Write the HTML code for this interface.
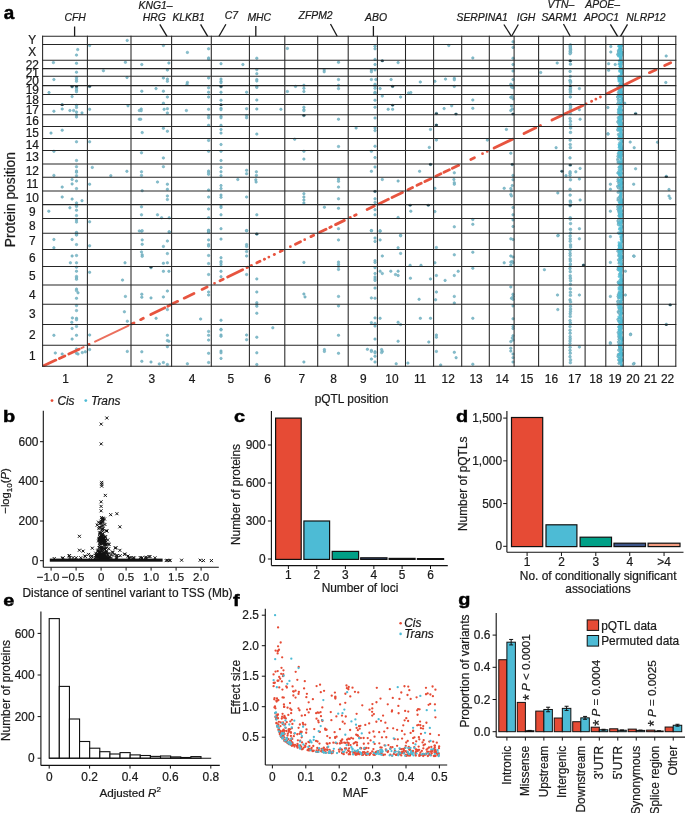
<!DOCTYPE html>
<html><head><meta charset="utf-8"><title>pQTL figure</title>
<style>
html,body{margin:0;padding:0;background:#fff;}
body{width:685px;height:813px;overflow:hidden;}
svg{display:block;will-change:transform;}
text{font-family:"Liberation Sans",sans-serif;fill:#1a1a1a;stroke:#1a1a1a;stroke-width:0.22px;}
</style></head><body>
<svg width="685" height="813" viewBox="0 0 685 813">
<rect width="685" height="813" fill="#fff"/>
<text transform="translate(3.65 18.9) scale(1.03 1)" x="0" y="0" font-size="18.3" font-weight="bold" style="fill:#000;stroke:#000;stroke-width:0.45px">a</text>
<text x="32.3" y="44.45" font-size="11.9" text-anchor="middle">Y</text>
<text x="32.3" y="56.45" font-size="11.9" text-anchor="middle">X</text>
<text x="32.3" y="68.55" font-size="11.9" text-anchor="middle">22</text>
<text x="32.3" y="76.5" font-size="11.9" text-anchor="middle">21</text>
<text x="32.3" y="85" font-size="11.9" text-anchor="middle">20</text>
<text x="32.3" y="94.1" font-size="11.9" text-anchor="middle">19</text>
<text x="32.3" y="103.5" font-size="11.9" text-anchor="middle">18</text>
<text x="32.3" y="113.65" font-size="11.9" text-anchor="middle">17</text>
<text x="32.3" y="124.65" font-size="11.9" text-anchor="middle">16</text>
<text x="32.3" y="136.5" font-size="11.9" text-anchor="middle">15</text>
<text x="32.3" y="148.5" font-size="11.9" text-anchor="middle">14</text>
<text x="32.3" y="161.25" font-size="11.9" text-anchor="middle">13</text>
<text x="32.3" y="174.7" font-size="11.9" text-anchor="middle">12</text>
<text x="32.3" y="188.2" font-size="11.9" text-anchor="middle">11</text>
<text x="32.3" y="201.85" font-size="11.9" text-anchor="middle">10</text>
<text x="32.3" y="215.65" font-size="11.9" text-anchor="middle">9</text>
<text x="32.3" y="230" font-size="11.9" text-anchor="middle">8</text>
<text x="32.3" y="245.45" font-size="11.9" text-anchor="middle">7</text>
<text x="32.3" y="262" font-size="11.9" text-anchor="middle">6</text>
<text x="32.3" y="279.75" font-size="11.9" text-anchor="middle">5</text>
<text x="32.3" y="298.7" font-size="11.9" text-anchor="middle">4</text>
<text x="32.3" y="318.45" font-size="11.9" text-anchor="middle">3</text>
<text x="32.3" y="338.95" font-size="11.9" text-anchor="middle">2</text>
<text x="32.3" y="359.9" font-size="11.9" text-anchor="middle">1</text>
<text x="65.5" y="382.6" font-size="11.9" text-anchor="middle">1</text>
<text x="109.7" y="382.6" font-size="11.9" text-anchor="middle">2</text>
<text x="151.8" y="382.6" font-size="11.9" text-anchor="middle">3</text>
<text x="191.95" y="382.6" font-size="11.9" text-anchor="middle">4</text>
<text x="230.85" y="382.6" font-size="11.9" text-anchor="middle">5</text>
<text x="267.6" y="382.6" font-size="11.9" text-anchor="middle">6</text>
<text x="301.75" y="382.6" font-size="11.9" text-anchor="middle">7</text>
<text x="333.45" y="382.6" font-size="11.9" text-anchor="middle">8</text>
<text x="363.3" y="382.6" font-size="11.9" text-anchor="middle">9</text>
<text x="391.95" y="382.6" font-size="11.9" text-anchor="middle">10</text>
<text x="420.05" y="382.6" font-size="11.9" text-anchor="middle">11</text>
<text x="448.15" y="382.6" font-size="11.9" text-anchor="middle">12</text>
<text x="476" y="382.6" font-size="11.9" text-anchor="middle">13</text>
<text x="502.2" y="382.6" font-size="11.9" text-anchor="middle">14</text>
<text x="526.85" y="382.6" font-size="11.9" text-anchor="middle">15</text>
<text x="551.4" y="382.6" font-size="11.9" text-anchor="middle">16</text>
<text x="574.65" y="382.6" font-size="11.9" text-anchor="middle">17</text>
<text x="595.95" y="382.6" font-size="11.9" text-anchor="middle">18</text>
<text x="615" y="382.6" font-size="11.9" text-anchor="middle">19</text>
<text x="632.9" y="382.6" font-size="11.9" text-anchor="middle">20</text>
<text x="650.5" y="382.6" font-size="11.9" text-anchor="middle">21</text>
<text x="667.6" y="382.6" font-size="11.9" text-anchor="middle">22</text>
<text x="351.5" y="402.6" font-size="11.9" text-anchor="middle">pQTL position</text>
<text x="14.6" y="199.6" font-size="13.8" text-anchor="middle" transform="rotate(-90 14.6 199.6)">Protein position</text>
<text x="75.2" y="20.9" font-size="10.4" text-anchor="middle" font-style="italic">CFH</text>
<line x1="74.6" y1="26.5" x2="74.6" y2="36.3" stroke="#1a1a1a" stroke-width="1.3"/>
<text x="154.3" y="20.6" font-size="10.4" text-anchor="middle" font-style="italic">HRG</text>
<line x1="159.8" y1="24.3" x2="167" y2="36.3" stroke="#1a1a1a" stroke-width="1.3"/>
<text x="155.6" y="9" font-size="10.4" text-anchor="middle" font-style="italic">KNG1–</text>
<text x="188.6" y="20.6" font-size="10.4" text-anchor="middle" font-style="italic">KLKB1</text>
<line x1="200.6" y1="24.3" x2="207.7" y2="36.3" stroke="#1a1a1a" stroke-width="1.3"/>
<text x="231.4" y="19" font-size="10.4" text-anchor="middle" font-style="italic">C7</text>
<line x1="225.9" y1="24.3" x2="219" y2="36.3" stroke="#1a1a1a" stroke-width="1.3"/>
<text x="259.3" y="21" font-size="10.4" text-anchor="middle" font-style="italic">MHC</text>
<line x1="255.8" y1="26" x2="255.8" y2="36.3" stroke="#1a1a1a" stroke-width="1.3"/>
<text x="315.6" y="19.3" font-size="10.4" text-anchor="middle" font-style="italic">ZFPM2</text>
<line x1="330.5" y1="24" x2="337.2" y2="36.3" stroke="#1a1a1a" stroke-width="1.3"/>
<text x="376" y="21" font-size="10.4" text-anchor="middle" font-style="italic">ABO</text>
<line x1="373.4" y1="26" x2="373.4" y2="36.3" stroke="#1a1a1a" stroke-width="1.3"/>
<text x="482.2" y="20.7" font-size="10.4" text-anchor="middle" font-style="italic">SERPINA1</text>
<line x1="503.9" y1="24.5" x2="511.4" y2="36.3" stroke="#1a1a1a" stroke-width="1.3"/>
<text x="526" y="20.7" font-size="10.4" text-anchor="middle" font-style="italic">IGH</text>
<line x1="518.3" y1="24.5" x2="511.6" y2="36.3" stroke="#1a1a1a" stroke-width="1.3"/>
<text x="560.9" y="8" font-size="10.4" text-anchor="middle" font-style="italic">VTN–</text>
<text x="559.3" y="20.8" font-size="10.4" text-anchor="middle" font-style="italic">SARM1</text>
<line x1="563.5" y1="24" x2="570.2" y2="36.3" stroke="#1a1a1a" stroke-width="1.3"/>
<text x="602.7" y="8" font-size="10.4" text-anchor="middle" font-style="italic">APOE–</text>
<text x="601.5" y="20.6" font-size="10.4" text-anchor="middle" font-style="italic">APOC1</text>
<line x1="610.4" y1="24.3" x2="617.6" y2="36.3" stroke="#1a1a1a" stroke-width="1.3"/>
<text x="646" y="20.6" font-size="10.4" text-anchor="middle" font-style="italic">NLRP12</text>
<line x1="627.5" y1="24.3" x2="620.5" y2="36.3" stroke="#1a1a1a" stroke-width="1.3"/>
<g fill="#86bfcd" stroke="#64a5b6" stroke-width="0.5">
<circle cx="127.2" cy="40.4" r="1.25"/>
<circle cx="89.6" cy="45.5" r="1.25"/>
<circle cx="77.7" cy="49.6" r="1.25"/>
<circle cx="76.5" cy="55.1" r="1.25"/>
<circle cx="53.4" cy="62.6" r="1.25"/>
<circle cx="76.5" cy="63.3" r="1.25"/>
<circle cx="125.4" cy="62.3" r="1.25"/>
<circle cx="103.4" cy="70.7" r="1.25"/>
<circle cx="76.5" cy="72.2" r="1.25"/>
<circle cx="53.9" cy="79.5" r="1.25"/>
<circle cx="76.5" cy="77.6" r="1.25"/>
<circle cx="76.5" cy="79.5" r="1.25"/>
<circle cx="76.5" cy="81.3" r="1.25"/>
<circle cx="127" cy="77.5" r="1.25"/>
<circle cx="72.1" cy="86.8" r="1.25"/>
<circle cx="76.5" cy="87.1" r="1.25"/>
<circle cx="76.5" cy="88.6" r="1.25"/>
<circle cx="76.5" cy="90.2" r="1.25"/>
<circle cx="76.5" cy="91.8" r="1.25"/>
<circle cx="89.6" cy="86.4" r="1.25"/>
<circle cx="49" cy="92.6" r="1.25"/>
<circle cx="72.1" cy="96.6" r="1.25"/>
<circle cx="62.2" cy="104.6" r="1.25"/>
<circle cx="62.2" cy="109" r="1.25"/>
<circle cx="76.5" cy="105.3" r="1.25"/>
<circle cx="76.5" cy="107.5" r="1.25"/>
<circle cx="53.9" cy="111.2" r="1.25"/>
<circle cx="69.9" cy="110.5" r="1.25"/>
<circle cx="73.6" cy="110.5" r="1.25"/>
<circle cx="76.5" cy="112" r="1.25"/>
<circle cx="76.5" cy="114.8" r="1.25"/>
<circle cx="76.5" cy="117" r="1.25"/>
<circle cx="82" cy="112.9" r="1.25"/>
<circle cx="89.6" cy="109.3" r="1.25"/>
<circle cx="128" cy="105.8" r="1.25"/>
<circle cx="139.3" cy="110.5" r="1.25"/>
<circle cx="139.3" cy="119.2" r="1.25"/>
<circle cx="62.2" cy="130.2" r="1.25"/>
<circle cx="51" cy="133.1" r="1.25"/>
<circle cx="163.4" cy="45.5" r="1.25"/>
<circle cx="208.6" cy="48.8" r="1.25"/>
<circle cx="187.4" cy="52.4" r="1.25"/>
<circle cx="208.6" cy="57.9" r="1.25"/>
<circle cx="208.6" cy="59.1" r="1.25"/>
<circle cx="141.8" cy="64.5" r="1.25"/>
<circle cx="168.9" cy="63" r="1.25"/>
<circle cx="221" cy="63.7" r="1.25"/>
<circle cx="167.4" cy="70" r="1.25"/>
<circle cx="163.4" cy="78" r="1.25"/>
<circle cx="167.4" cy="79.1" r="1.25"/>
<circle cx="167.4" cy="81.3" r="1.25"/>
<circle cx="208.6" cy="78" r="1.25"/>
<circle cx="187.4" cy="82.4" r="1.25"/>
<circle cx="187" cy="84.2" r="1.25"/>
<circle cx="221" cy="79.1" r="1.25"/>
<circle cx="221" cy="81.3" r="1.25"/>
<circle cx="221" cy="82.7" r="1.25"/>
<circle cx="156" cy="88.6" r="1.25"/>
<circle cx="141.8" cy="91.2" r="1.25"/>
<circle cx="163.4" cy="91.2" r="1.25"/>
<circle cx="208.6" cy="87.8" r="1.25"/>
<circle cx="208.6" cy="92.2" r="1.25"/>
<circle cx="221" cy="86.8" r="1.25"/>
<circle cx="221" cy="92.2" r="1.25"/>
<circle cx="167.4" cy="97" r="1.25"/>
<circle cx="208.6" cy="97" r="1.25"/>
<circle cx="221" cy="100.2" r="1.25"/>
<circle cx="163.4" cy="103.2" r="1.25"/>
<circle cx="221" cy="104.6" r="1.25"/>
<circle cx="221" cy="108.3" r="1.25"/>
<circle cx="221" cy="109.7" r="1.25"/>
<circle cx="141.2" cy="109" r="1.25"/>
<circle cx="141.2" cy="110.7" r="1.25"/>
<circle cx="164.1" cy="109.3" r="1.25"/>
<circle cx="167.4" cy="108.7" r="1.25"/>
<circle cx="167.4" cy="112.9" r="1.25"/>
<circle cx="186.4" cy="110.5" r="1.25"/>
<circle cx="208.6" cy="109.3" r="1.25"/>
<circle cx="208.6" cy="115.6" r="1.25"/>
<circle cx="208.6" cy="117.8" r="1.25"/>
<circle cx="221" cy="116.3" r="1.25"/>
<circle cx="221" cy="117.8" r="1.25"/>
<circle cx="140.7" cy="119.2" r="1.25"/>
<circle cx="208.6" cy="125.3" r="1.25"/>
<circle cx="221" cy="125.3" r="1.25"/>
<circle cx="163.4" cy="128.3" r="1.25"/>
<circle cx="167.4" cy="131.2" r="1.25"/>
<circle cx="221" cy="129.4" r="1.25"/>
<circle cx="221" cy="133.1" r="1.25"/>
<circle cx="142.2" cy="132.6" r="1.25"/>
<circle cx="287.4" cy="48.4" r="1.25"/>
<circle cx="256.8" cy="58.2" r="1.25"/>
<circle cx="242.9" cy="64.5" r="1.25"/>
<circle cx="338.5" cy="62.3" r="1.25"/>
<circle cx="256.8" cy="69.6" r="1.25"/>
<circle cx="256.8" cy="73.7" r="1.25"/>
<circle cx="324.2" cy="69.9" r="1.25"/>
<circle cx="324.2" cy="71.8" r="1.25"/>
<circle cx="256.8" cy="79.5" r="1.25"/>
<circle cx="256.8" cy="81" r="1.25"/>
<circle cx="338.5" cy="79.5" r="1.25"/>
<circle cx="256.8" cy="86.4" r="1.25"/>
<circle cx="256.8" cy="87.4" r="1.25"/>
<circle cx="295.5" cy="86.4" r="1.25"/>
<circle cx="303.9" cy="85.3" r="1.25"/>
<circle cx="303.9" cy="88.3" r="1.25"/>
<circle cx="303.9" cy="91.5" r="1.25"/>
<circle cx="338.5" cy="85.3" r="1.25"/>
<circle cx="338.5" cy="88.6" r="1.25"/>
<circle cx="246.6" cy="92.2" r="1.25"/>
<circle cx="287.4" cy="91.5" r="1.25"/>
<circle cx="256.8" cy="100" r="1.25"/>
<circle cx="246.6" cy="108.7" r="1.25"/>
<circle cx="256.8" cy="109" r="1.25"/>
<circle cx="280.9" cy="109.3" r="1.25"/>
<circle cx="303.9" cy="107.2" r="1.25"/>
<circle cx="303.9" cy="109.7" r="1.25"/>
<circle cx="303.9" cy="110.7" r="1.25"/>
<circle cx="303.9" cy="115.6" r="1.25"/>
<circle cx="246.6" cy="115.6" r="1.25"/>
<circle cx="246.6" cy="117.8" r="1.25"/>
<circle cx="338.5" cy="119.2" r="1.25"/>
<circle cx="256.8" cy="134.1" r="1.25"/>
<circle cx="375" cy="46.2" r="1.25"/>
<circle cx="375" cy="48.8" r="1.25"/>
<circle cx="375" cy="59.4" r="1.25"/>
<circle cx="375" cy="64.5" r="1.25"/>
<circle cx="382.3" cy="60.8" r="1.25"/>
<circle cx="398.1" cy="62.6" r="1.25"/>
<circle cx="371.4" cy="69.9" r="1.25"/>
<circle cx="375" cy="69.9" r="1.25"/>
<circle cx="371.4" cy="71.8" r="1.25"/>
<circle cx="371.4" cy="79.5" r="1.25"/>
<circle cx="375.8" cy="79.5" r="1.25"/>
<circle cx="391.1" cy="79.5" r="1.25"/>
<circle cx="420.3" cy="82" r="1.25"/>
<circle cx="434.9" cy="81.3" r="1.25"/>
<circle cx="375" cy="84.2" r="1.25"/>
<circle cx="375" cy="86.4" r="1.25"/>
<circle cx="375" cy="88.3" r="1.25"/>
<circle cx="380.1" cy="88.6" r="1.25"/>
<circle cx="392.6" cy="86.4" r="1.25"/>
<circle cx="375" cy="92.2" r="1.25"/>
<circle cx="375" cy="93.2" r="1.25"/>
<circle cx="408.6" cy="92.9" r="1.25"/>
<circle cx="410.8" cy="92.6" r="1.25"/>
<circle cx="382.3" cy="96.1" r="1.25"/>
<circle cx="400.6" cy="97" r="1.25"/>
<circle cx="375" cy="100.2" r="1.25"/>
<circle cx="375" cy="107.2" r="1.25"/>
<circle cx="392.6" cy="105.3" r="1.25"/>
<circle cx="388.2" cy="109.3" r="1.25"/>
<circle cx="392.6" cy="109.3" r="1.25"/>
<circle cx="436.4" cy="113.4" r="1.25"/>
<circle cx="375" cy="118" r="1.25"/>
<circle cx="356.1" cy="128" r="1.25"/>
<circle cx="375" cy="128" r="1.25"/>
<circle cx="375" cy="130.6" r="1.25"/>
<circle cx="436.4" cy="125" r="1.25"/>
<circle cx="430.5" cy="129.4" r="1.25"/>
<circle cx="448.8" cy="45.5" r="1.25"/>
<circle cx="513" cy="41.8" r="1.25"/>
<circle cx="513" cy="47.4" r="1.25"/>
<circle cx="472.8" cy="57.9" r="1.25"/>
<circle cx="513" cy="58.2" r="1.25"/>
<circle cx="513" cy="64.5" r="1.25"/>
<circle cx="513" cy="71" r="1.25"/>
<circle cx="445.5" cy="79.1" r="1.25"/>
<circle cx="454.3" cy="78.3" r="1.25"/>
<circle cx="454.3" cy="79.8" r="1.25"/>
<circle cx="454.3" cy="86.4" r="1.25"/>
<circle cx="513" cy="79.5" r="1.25"/>
<circle cx="510.8" cy="84.2" r="1.25"/>
<circle cx="512.3" cy="85.6" r="1.25"/>
<circle cx="511.5" cy="87.1" r="1.25"/>
<circle cx="513" cy="87.8" r="1.25"/>
<circle cx="510.8" cy="97.3" r="1.25"/>
<circle cx="512.3" cy="96.6" r="1.25"/>
<circle cx="513" cy="98.8" r="1.25"/>
<circle cx="472.8" cy="100" r="1.25"/>
<circle cx="451.7" cy="105.8" r="1.25"/>
<circle cx="444.1" cy="108.6" r="1.25"/>
<circle cx="472.8" cy="108.3" r="1.25"/>
<circle cx="511.5" cy="106" r="1.25"/>
<circle cx="512.3" cy="109" r="1.25"/>
<circle cx="510.8" cy="110.5" r="1.25"/>
<circle cx="456" cy="114.1" r="1.25"/>
<circle cx="513" cy="114.1" r="1.25"/>
<circle cx="506.4" cy="129.4" r="1.25"/>
<circle cx="557.2" cy="63" r="1.25"/>
<circle cx="540.7" cy="72.5" r="1.25"/>
<circle cx="579.4" cy="88.6" r="1.25"/>
<circle cx="579.4" cy="109.7" r="1.25"/>
<circle cx="580.1" cy="119.2" r="1.25"/>
<circle cx="610.8" cy="46.5" r="1.25"/>
<circle cx="610.8" cy="52" r="1.25"/>
<circle cx="608.6" cy="63.7" r="1.25"/>
<circle cx="608.6" cy="70.3" r="1.25"/>
<circle cx="615.2" cy="64.5" r="1.25"/>
<circle cx="607.9" cy="107.5" r="1.25"/>
<circle cx="607.9" cy="133.8" r="1.25"/>
<circle cx="635.6" cy="113.4" r="1.25"/>
<circle cx="624.7" cy="103.2" r="1.25"/>
<circle cx="666.2" cy="56" r="1.25"/>
<circle cx="665.8" cy="82.5" r="1.25"/>
<circle cx="76.5" cy="141.8" r="1.25"/>
<circle cx="89.6" cy="141.8" r="1.25"/>
<circle cx="53.9" cy="151.3" r="1.25"/>
<circle cx="76.5" cy="160.5" r="1.25"/>
<circle cx="76.5" cy="166.7" r="1.25"/>
<circle cx="92.3" cy="167.4" r="1.25"/>
<circle cx="126.9" cy="171.3" r="1.25"/>
<circle cx="76.5" cy="171" r="1.25"/>
<circle cx="76.5" cy="172.2" r="1.25"/>
<circle cx="53.9" cy="175.4" r="1.25"/>
<circle cx="110.8" cy="175.7" r="1.25"/>
<circle cx="76.5" cy="175.7" r="1.25"/>
<circle cx="72.1" cy="179.5" r="1.25"/>
<circle cx="76.5" cy="181" r="1.25"/>
<circle cx="72.1" cy="183.9" r="1.25"/>
<circle cx="89.6" cy="184.2" r="1.25"/>
<circle cx="62.2" cy="187.1" r="1.25"/>
<circle cx="76.5" cy="188.6" r="1.25"/>
<circle cx="62.2" cy="197" r="1.25"/>
<circle cx="72.1" cy="199.1" r="1.25"/>
<circle cx="82" cy="200.7" r="1.25"/>
<circle cx="76.5" cy="202.9" r="1.25"/>
<circle cx="76.5" cy="205.3" r="1.25"/>
<circle cx="76.5" cy="206.4" r="1.25"/>
<circle cx="69.9" cy="207.8" r="1.25"/>
<circle cx="48.8" cy="211.2" r="1.25"/>
<circle cx="76.5" cy="210.2" r="1.25"/>
<circle cx="76.5" cy="215.6" r="1.25"/>
<circle cx="76.5" cy="220" r="1.25"/>
<circle cx="76.5" cy="222.1" r="1.25"/>
<circle cx="89.6" cy="221.8" r="1.25"/>
<circle cx="76.5" cy="232.4" r="1.25"/>
<circle cx="76.5" cy="234.5" r="1.25"/>
<circle cx="139.3" cy="230.9" r="1.25"/>
<circle cx="208.6" cy="140.4" r="1.25"/>
<circle cx="221" cy="144.5" r="1.25"/>
<circle cx="208.6" cy="151.3" r="1.25"/>
<circle cx="221" cy="151.3" r="1.25"/>
<circle cx="141.5" cy="152.8" r="1.25"/>
<circle cx="163.4" cy="157.9" r="1.25"/>
<circle cx="221" cy="160.5" r="1.25"/>
<circle cx="163.4" cy="166.7" r="1.25"/>
<circle cx="221" cy="167.4" r="1.25"/>
<circle cx="141.5" cy="171.8" r="1.25"/>
<circle cx="141.5" cy="175.4" r="1.25"/>
<circle cx="208.6" cy="171" r="1.25"/>
<circle cx="208.6" cy="172.5" r="1.25"/>
<circle cx="208.6" cy="174.2" r="1.25"/>
<circle cx="221" cy="171.8" r="1.25"/>
<circle cx="221" cy="175.7" r="1.25"/>
<circle cx="237.8" cy="179.5" r="1.25"/>
<circle cx="157.5" cy="182" r="1.25"/>
<circle cx="167.4" cy="184.2" r="1.25"/>
<circle cx="221" cy="185.6" r="1.25"/>
<circle cx="221" cy="188.6" r="1.25"/>
<circle cx="142.2" cy="190.7" r="1.25"/>
<circle cx="167.4" cy="189.3" r="1.25"/>
<circle cx="208.6" cy="190" r="1.25"/>
<circle cx="167.4" cy="195.9" r="1.25"/>
<circle cx="167.4" cy="199.5" r="1.25"/>
<circle cx="208.6" cy="197" r="1.25"/>
<circle cx="221" cy="195.1" r="1.25"/>
<circle cx="221" cy="197.3" r="1.25"/>
<circle cx="141.5" cy="206.8" r="1.25"/>
<circle cx="208.6" cy="209" r="1.25"/>
<circle cx="221" cy="206" r="1.25"/>
<circle cx="221" cy="207.5" r="1.25"/>
<circle cx="141.5" cy="214.8" r="1.25"/>
<circle cx="157.5" cy="214.8" r="1.25"/>
<circle cx="161.6" cy="217.8" r="1.25"/>
<circle cx="169.2" cy="217.8" r="1.25"/>
<circle cx="208.6" cy="217.8" r="1.25"/>
<circle cx="221" cy="214.8" r="1.25"/>
<circle cx="221" cy="228.7" r="1.25"/>
<circle cx="141.5" cy="231.2" r="1.25"/>
<circle cx="169.2" cy="232.1" r="1.25"/>
<circle cx="208.6" cy="230.2" r="1.25"/>
<circle cx="208.6" cy="232.4" r="1.25"/>
<circle cx="294.7" cy="139.2" r="1.25"/>
<circle cx="338.5" cy="146.5" r="1.25"/>
<circle cx="303.9" cy="151.3" r="1.25"/>
<circle cx="303.9" cy="159.1" r="1.25"/>
<circle cx="246.6" cy="170.3" r="1.25"/>
<circle cx="246.6" cy="173.7" r="1.25"/>
<circle cx="256.4" cy="171.8" r="1.25"/>
<circle cx="256.4" cy="175.4" r="1.25"/>
<circle cx="255.8" cy="179.8" r="1.25"/>
<circle cx="256.1" cy="182" r="1.25"/>
<circle cx="338.5" cy="179.1" r="1.25"/>
<circle cx="338.5" cy="181.3" r="1.25"/>
<circle cx="338.5" cy="187.1" r="1.25"/>
<circle cx="246.6" cy="197" r="1.25"/>
<circle cx="303.9" cy="193.7" r="1.25"/>
<circle cx="303.9" cy="197" r="1.25"/>
<circle cx="303.9" cy="200" r="1.25"/>
<circle cx="303.9" cy="203" r="1.25"/>
<circle cx="338.5" cy="198.8" r="1.25"/>
<circle cx="324.4" cy="207.2" r="1.25"/>
<circle cx="338.5" cy="208.3" r="1.25"/>
<circle cx="256.8" cy="214.8" r="1.25"/>
<circle cx="246.6" cy="230.6" r="1.25"/>
<circle cx="256.8" cy="234.1" r="1.25"/>
<circle cx="338.5" cy="228.7" r="1.25"/>
<circle cx="375" cy="146.2" r="1.25"/>
<circle cx="436.4" cy="140.1" r="1.25"/>
<circle cx="429.3" cy="147.4" r="1.25"/>
<circle cx="371.4" cy="151.3" r="1.25"/>
<circle cx="375" cy="157.6" r="1.25"/>
<circle cx="430.5" cy="164.5" r="1.25"/>
<circle cx="375" cy="167" r="1.25"/>
<circle cx="371.4" cy="171.3" r="1.25"/>
<circle cx="419.6" cy="171.3" r="1.25"/>
<circle cx="382.3" cy="179.5" r="1.25"/>
<circle cx="398.1" cy="181" r="1.25"/>
<circle cx="434.9" cy="188.3" r="1.25"/>
<circle cx="375" cy="191.5" r="1.25"/>
<circle cx="375" cy="198.8" r="1.25"/>
<circle cx="375" cy="202.4" r="1.25"/>
<circle cx="410.1" cy="205.3" r="1.25"/>
<circle cx="428.3" cy="205.3" r="1.25"/>
<circle cx="410.8" cy="211.2" r="1.25"/>
<circle cx="434.9" cy="211.6" r="1.25"/>
<circle cx="375" cy="209.7" r="1.25"/>
<circle cx="375" cy="214.8" r="1.25"/>
<circle cx="398.1" cy="217.5" r="1.25"/>
<circle cx="371.4" cy="230.6" r="1.25"/>
<circle cx="380.1" cy="231.2" r="1.25"/>
<circle cx="400.6" cy="235.3" r="1.25"/>
<circle cx="487.4" cy="140.1" r="1.25"/>
<circle cx="510.8" cy="153.2" r="1.25"/>
<circle cx="512.3" cy="164.5" r="1.25"/>
<circle cx="454.3" cy="172.8" r="1.25"/>
<circle cx="453.9" cy="179.5" r="1.25"/>
<circle cx="454.3" cy="182.7" r="1.25"/>
<circle cx="454.3" cy="184.2" r="1.25"/>
<circle cx="513" cy="175.4" r="1.25"/>
<circle cx="513" cy="179.8" r="1.25"/>
<circle cx="512.3" cy="185.6" r="1.25"/>
<circle cx="510.8" cy="188.6" r="1.25"/>
<circle cx="511.5" cy="190.7" r="1.25"/>
<circle cx="510.8" cy="194.4" r="1.25"/>
<circle cx="511.5" cy="195.9" r="1.25"/>
<circle cx="504.2" cy="188.3" r="1.25"/>
<circle cx="513" cy="207.5" r="1.25"/>
<circle cx="513" cy="214.8" r="1.25"/>
<circle cx="513" cy="219.9" r="1.25"/>
<circle cx="513" cy="226.5" r="1.25"/>
<circle cx="472.8" cy="219.5" r="1.25"/>
<circle cx="472.8" cy="224.3" r="1.25"/>
<circle cx="454.3" cy="226.8" r="1.25"/>
<circle cx="556.1" cy="147.7" r="1.25"/>
<circle cx="561.9" cy="171.3" r="1.25"/>
<circle cx="566" cy="175.7" r="1.25"/>
<circle cx="575.8" cy="171.8" r="1.25"/>
<circle cx="580.1" cy="168.4" r="1.25"/>
<circle cx="579.4" cy="179.1" r="1.25"/>
<circle cx="557.8" cy="192.9" r="1.25"/>
<circle cx="580.1" cy="200" r="1.25"/>
<circle cx="579.4" cy="228.7" r="1.25"/>
<circle cx="558.2" cy="235.3" r="1.25"/>
<circle cx="610.4" cy="184.2" r="1.25"/>
<circle cx="610.4" cy="189.3" r="1.25"/>
<circle cx="610.4" cy="211.2" r="1.25"/>
<circle cx="630.2" cy="142.1" r="1.25"/>
<circle cx="634.2" cy="147.7" r="1.25"/>
<circle cx="635.6" cy="168.8" r="1.25"/>
<circle cx="633.7" cy="184.2" r="1.25"/>
<circle cx="608.1" cy="134.1" r="1.25"/>
<circle cx="657.5" cy="142.2" r="1.25"/>
<circle cx="666.3" cy="176.3" r="1.25"/>
<circle cx="669" cy="189.5" r="1.25"/>
<circle cx="669" cy="196" r="1.25"/>
<circle cx="670.1" cy="198.3" r="1.25"/>
<circle cx="76.5" cy="232.9" r="1.25"/>
<circle cx="76.5" cy="235.1" r="1.25"/>
<circle cx="53.9" cy="239.5" r="1.25"/>
<circle cx="72.1" cy="239.5" r="1.25"/>
<circle cx="76.5" cy="244.6" r="1.25"/>
<circle cx="53.9" cy="247.8" r="1.25"/>
<circle cx="89.6" cy="245.8" r="1.25"/>
<circle cx="72.1" cy="256" r="1.25"/>
<circle cx="76.5" cy="255.5" r="1.25"/>
<circle cx="70.4" cy="262.8" r="1.25"/>
<circle cx="76.5" cy="262.8" r="1.25"/>
<circle cx="125" cy="262.8" r="1.25"/>
<circle cx="76.5" cy="267.2" r="1.25"/>
<circle cx="76.5" cy="271.2" r="1.25"/>
<circle cx="89.6" cy="272.3" r="1.25"/>
<circle cx="76.5" cy="276.4" r="1.25"/>
<circle cx="76.5" cy="277.9" r="1.25"/>
<circle cx="76.5" cy="279.3" r="1.25"/>
<circle cx="122.5" cy="280.1" r="1.25"/>
<circle cx="76.5" cy="289.1" r="1.25"/>
<circle cx="76.5" cy="290.6" r="1.25"/>
<circle cx="78" cy="292.8" r="1.25"/>
<circle cx="76.5" cy="298.3" r="1.25"/>
<circle cx="125.4" cy="296.4" r="1.25"/>
<circle cx="76.5" cy="305.6" r="1.25"/>
<circle cx="76.5" cy="310.6" r="1.25"/>
<circle cx="124.4" cy="311.8" r="1.25"/>
<circle cx="72.4" cy="317.9" r="1.25"/>
<circle cx="76.5" cy="318.3" r="1.25"/>
<circle cx="76.5" cy="319.8" r="1.25"/>
<circle cx="71.8" cy="322.3" r="1.25"/>
<circle cx="127.3" cy="321.2" r="1.25"/>
<circle cx="76.5" cy="326.4" r="1.25"/>
<circle cx="72.1" cy="328.5" r="1.25"/>
<circle cx="208.6" cy="230.7" r="1.25"/>
<circle cx="208.6" cy="232.2" r="1.25"/>
<circle cx="142.2" cy="230.7" r="1.25"/>
<circle cx="169.2" cy="231.8" r="1.25"/>
<circle cx="142.2" cy="239.9" r="1.25"/>
<circle cx="142.2" cy="244.3" r="1.25"/>
<circle cx="167.4" cy="241" r="1.25"/>
<circle cx="163.4" cy="246.4" r="1.25"/>
<circle cx="208.6" cy="239.9" r="1.25"/>
<circle cx="208.6" cy="244.6" r="1.25"/>
<circle cx="208.6" cy="246.1" r="1.25"/>
<circle cx="221" cy="239.1" r="1.25"/>
<circle cx="141.5" cy="251.9" r="1.25"/>
<circle cx="142.2" cy="254.8" r="1.25"/>
<circle cx="142.2" cy="256.3" r="1.25"/>
<circle cx="167.4" cy="253.6" r="1.25"/>
<circle cx="208.6" cy="255.5" r="1.25"/>
<circle cx="221" cy="257.7" r="1.25"/>
<circle cx="163.4" cy="263.3" r="1.25"/>
<circle cx="167.4" cy="262.8" r="1.25"/>
<circle cx="208.6" cy="263.6" r="1.25"/>
<circle cx="221" cy="261.4" r="1.25"/>
<circle cx="221" cy="262.8" r="1.25"/>
<circle cx="221" cy="264.7" r="1.25"/>
<circle cx="151" cy="267.7" r="1.25"/>
<circle cx="163.4" cy="271.3" r="1.25"/>
<circle cx="168.9" cy="271.3" r="1.25"/>
<circle cx="221" cy="271.3" r="1.25"/>
<circle cx="221" cy="276.7" r="1.25"/>
<circle cx="208.6" cy="274.5" r="1.25"/>
<circle cx="167.4" cy="291" r="1.25"/>
<circle cx="141.8" cy="294.2" r="1.25"/>
<circle cx="141.8" cy="297.2" r="1.25"/>
<circle cx="151" cy="297.9" r="1.25"/>
<circle cx="163.4" cy="296.9" r="1.25"/>
<circle cx="208.6" cy="292" r="1.25"/>
<circle cx="208.6" cy="295" r="1.25"/>
<circle cx="167.4" cy="309.6" r="1.25"/>
<circle cx="156.1" cy="318.3" r="1.25"/>
<circle cx="200.6" cy="319" r="1.25"/>
<circle cx="221" cy="320.2" r="1.25"/>
<circle cx="221" cy="329.3" r="1.25"/>
<circle cx="246.6" cy="230.7" r="1.25"/>
<circle cx="256.8" cy="234.1" r="1.25"/>
<circle cx="246.6" cy="244.6" r="1.25"/>
<circle cx="246.6" cy="246.4" r="1.25"/>
<circle cx="246.6" cy="251.6" r="1.25"/>
<circle cx="246.6" cy="256" r="1.25"/>
<circle cx="338.5" cy="239.9" r="1.25"/>
<circle cx="303.9" cy="262.4" r="1.25"/>
<circle cx="338.5" cy="262.1" r="1.25"/>
<circle cx="338.5" cy="264.3" r="1.25"/>
<circle cx="338.5" cy="266.5" r="1.25"/>
<circle cx="338.5" cy="269.4" r="1.25"/>
<circle cx="246.6" cy="274.5" r="1.25"/>
<circle cx="256.8" cy="278.9" r="1.25"/>
<circle cx="256.8" cy="292" r="1.25"/>
<circle cx="303.9" cy="294" r="1.25"/>
<circle cx="305" cy="296.9" r="1.25"/>
<circle cx="338.5" cy="296.4" r="1.25"/>
<circle cx="256.8" cy="302.7" r="1.25"/>
<circle cx="256.8" cy="304.5" r="1.25"/>
<circle cx="256.8" cy="306.2" r="1.25"/>
<circle cx="338.5" cy="305.9" r="1.25"/>
<circle cx="256.8" cy="313.2" r="1.25"/>
<circle cx="272.8" cy="327.8" r="1.25"/>
<circle cx="371.4" cy="230.7" r="1.25"/>
<circle cx="380.1" cy="230.7" r="1.25"/>
<circle cx="400.6" cy="235.8" r="1.25"/>
<circle cx="375" cy="238" r="1.25"/>
<circle cx="375" cy="241.4" r="1.25"/>
<circle cx="380.1" cy="239.9" r="1.25"/>
<circle cx="398.1" cy="247.8" r="1.25"/>
<circle cx="436.4" cy="247.5" r="1.25"/>
<circle cx="400.6" cy="253.4" r="1.25"/>
<circle cx="382.3" cy="256" r="1.25"/>
<circle cx="375" cy="260.7" r="1.25"/>
<circle cx="375" cy="262.4" r="1.25"/>
<circle cx="434.9" cy="262.8" r="1.25"/>
<circle cx="410.1" cy="265.3" r="1.25"/>
<circle cx="421" cy="265.3" r="1.25"/>
<circle cx="375" cy="267.7" r="1.25"/>
<circle cx="380.1" cy="271.2" r="1.25"/>
<circle cx="382.3" cy="273.5" r="1.25"/>
<circle cx="390.8" cy="271.2" r="1.25"/>
<circle cx="398.1" cy="271.2" r="1.25"/>
<circle cx="395.5" cy="274.5" r="1.25"/>
<circle cx="398.1" cy="275.5" r="1.25"/>
<circle cx="375" cy="273.5" r="1.25"/>
<circle cx="375" cy="277" r="1.25"/>
<circle cx="375" cy="278.9" r="1.25"/>
<circle cx="375" cy="280.4" r="1.25"/>
<circle cx="410.4" cy="278.2" r="1.25"/>
<circle cx="430.5" cy="278.9" r="1.25"/>
<circle cx="436.4" cy="275.5" r="1.25"/>
<circle cx="375" cy="288.1" r="1.25"/>
<circle cx="436.4" cy="292" r="1.25"/>
<circle cx="371.4" cy="297.9" r="1.25"/>
<circle cx="375" cy="298.2" r="1.25"/>
<circle cx="419.1" cy="299.3" r="1.25"/>
<circle cx="435.6" cy="299.8" r="1.25"/>
<circle cx="375" cy="317.9" r="1.25"/>
<circle cx="380.1" cy="318.3" r="1.25"/>
<circle cx="420.3" cy="318.3" r="1.25"/>
<circle cx="430.5" cy="318.3" r="1.25"/>
<circle cx="371.4" cy="322.7" r="1.25"/>
<circle cx="375" cy="323.4" r="1.25"/>
<circle cx="375" cy="326.1" r="1.25"/>
<circle cx="398.1" cy="322.3" r="1.25"/>
<circle cx="400.6" cy="324.6" r="1.25"/>
<circle cx="510.8" cy="238.8" r="1.25"/>
<circle cx="513" cy="239.5" r="1.25"/>
<circle cx="472.8" cy="252.2" r="1.25"/>
<circle cx="454.3" cy="254.8" r="1.25"/>
<circle cx="510.8" cy="256" r="1.25"/>
<circle cx="513" cy="257" r="1.25"/>
<circle cx="504.2" cy="262.8" r="1.25"/>
<circle cx="510.8" cy="262.1" r="1.25"/>
<circle cx="512.3" cy="261.4" r="1.25"/>
<circle cx="513" cy="262.8" r="1.25"/>
<circle cx="510.8" cy="265" r="1.25"/>
<circle cx="472.8" cy="268.2" r="1.25"/>
<circle cx="458.2" cy="271.3" r="1.25"/>
<circle cx="454.3" cy="275.5" r="1.25"/>
<circle cx="445.1" cy="280.4" r="1.25"/>
<circle cx="510.8" cy="286.9" r="1.25"/>
<circle cx="454.3" cy="296.4" r="1.25"/>
<circle cx="454.3" cy="303" r="1.25"/>
<circle cx="513" cy="294.2" r="1.25"/>
<circle cx="513" cy="296.4" r="1.25"/>
<circle cx="511.5" cy="298.3" r="1.25"/>
<circle cx="513" cy="299.3" r="1.25"/>
<circle cx="513" cy="305.9" r="1.25"/>
<circle cx="472.8" cy="318.3" r="1.25"/>
<circle cx="513" cy="318.8" r="1.25"/>
<circle cx="513" cy="326.4" r="1.25"/>
<circle cx="513" cy="328.5" r="1.25"/>
<circle cx="557.8" cy="235.8" r="1.25"/>
<circle cx="579.4" cy="238.8" r="1.25"/>
<circle cx="610.4" cy="236.6" r="1.25"/>
<circle cx="633.7" cy="256" r="1.25"/>
<circle cx="610.4" cy="262.4" r="1.25"/>
<circle cx="583.5" cy="265" r="1.25"/>
<circle cx="544.4" cy="269.7" r="1.25"/>
<circle cx="625.4" cy="271.2" r="1.25"/>
<circle cx="557.5" cy="295" r="1.25"/>
<circle cx="579.4" cy="295" r="1.25"/>
<circle cx="610.4" cy="296.4" r="1.25"/>
<circle cx="625.4" cy="295" r="1.25"/>
<circle cx="557.8" cy="309.6" r="1.25"/>
<circle cx="634.1" cy="256.2" r="1.25"/>
<circle cx="670.2" cy="304.9" r="1.25"/>
<circle cx="666.3" cy="324.3" r="1.25"/>
<circle cx="630.6" cy="334.1" r="1.25"/>
<circle cx="610.3" cy="342.7" r="1.25"/>
<circle cx="634.1" cy="363.4" r="1.25"/>
<circle cx="76.5" cy="335.3" r="1.25"/>
<circle cx="53.9" cy="335.3" r="1.25"/>
<circle cx="89.6" cy="335" r="1.25"/>
<circle cx="72.1" cy="339.1" r="1.25"/>
<circle cx="76.5" cy="348.9" r="1.25"/>
<circle cx="89.6" cy="349.6" r="1.25"/>
<circle cx="55.3" cy="353" r="1.25"/>
<circle cx="62.2" cy="354" r="1.25"/>
<circle cx="76.5" cy="353.3" r="1.25"/>
<circle cx="78" cy="354" r="1.25"/>
<circle cx="82.3" cy="352.6" r="1.25"/>
<circle cx="85.3" cy="351.8" r="1.25"/>
<circle cx="127.3" cy="351.4" r="1.25"/>
<circle cx="208.6" cy="331.4" r="1.25"/>
<circle cx="208.6" cy="335.3" r="1.25"/>
<circle cx="208.6" cy="340.1" r="1.25"/>
<circle cx="221" cy="329.9" r="1.25"/>
<circle cx="221" cy="335" r="1.25"/>
<circle cx="221" cy="336.2" r="1.25"/>
<circle cx="167.4" cy="335.3" r="1.25"/>
<circle cx="167.4" cy="340.6" r="1.25"/>
<circle cx="168.9" cy="341.2" r="1.25"/>
<circle cx="167.4" cy="346.7" r="1.25"/>
<circle cx="141.8" cy="351.8" r="1.25"/>
<circle cx="208.6" cy="353.3" r="1.25"/>
<circle cx="221" cy="351.1" r="1.25"/>
<circle cx="221" cy="352.8" r="1.25"/>
<circle cx="221" cy="358.4" r="1.25"/>
<circle cx="141.8" cy="361.3" r="1.25"/>
<circle cx="151" cy="362" r="1.25"/>
<circle cx="159.3" cy="363.9" r="1.25"/>
<circle cx="163.4" cy="362.5" r="1.25"/>
<circle cx="167.4" cy="364.5" r="1.25"/>
<circle cx="187.4" cy="363.8" r="1.25"/>
<circle cx="208.6" cy="362.5" r="1.25"/>
<circle cx="246.6" cy="335" r="1.25"/>
<circle cx="246.6" cy="339.7" r="1.25"/>
<circle cx="256.8" cy="337.2" r="1.25"/>
<circle cx="338.5" cy="335.3" r="1.25"/>
<circle cx="256.8" cy="352.8" r="1.25"/>
<circle cx="324.4" cy="349.6" r="1.25"/>
<circle cx="324.4" cy="351.4" r="1.25"/>
<circle cx="338.5" cy="353.3" r="1.25"/>
<circle cx="303.9" cy="362" r="1.25"/>
<circle cx="256.8" cy="364.5" r="1.25"/>
<circle cx="375" cy="339.1" r="1.25"/>
<circle cx="398.1" cy="341.2" r="1.25"/>
<circle cx="428.8" cy="342" r="1.25"/>
<circle cx="436.4" cy="335" r="1.25"/>
<circle cx="436.4" cy="337.2" r="1.25"/>
<circle cx="367.4" cy="349.3" r="1.25"/>
<circle cx="371.4" cy="350.4" r="1.25"/>
<circle cx="371.4" cy="351.4" r="1.25"/>
<circle cx="375" cy="351.8" r="1.25"/>
<circle cx="375" cy="352.8" r="1.25"/>
<circle cx="375" cy="356.2" r="1.25"/>
<circle cx="381.6" cy="349.6" r="1.25"/>
<circle cx="382.3" cy="351.4" r="1.25"/>
<circle cx="381.6" cy="352.6" r="1.25"/>
<circle cx="371.4" cy="359.1" r="1.25"/>
<circle cx="375" cy="362" r="1.25"/>
<circle cx="396.2" cy="363.8" r="1.25"/>
<circle cx="407.9" cy="363.1" r="1.25"/>
<circle cx="436.4" cy="351.4" r="1.25"/>
<circle cx="513" cy="335.8" r="1.25"/>
<circle cx="512.3" cy="338" r="1.25"/>
<circle cx="510.8" cy="341.6" r="1.25"/>
<circle cx="513" cy="340.1" r="1.25"/>
<circle cx="510.8" cy="348.2" r="1.25"/>
<circle cx="510.8" cy="351.1" r="1.25"/>
<circle cx="513" cy="354" r="1.25"/>
<circle cx="513" cy="357.7" r="1.25"/>
<circle cx="513" cy="362" r="1.25"/>
<circle cx="454.3" cy="352.3" r="1.25"/>
<circle cx="456.1" cy="357.7" r="1.25"/>
<circle cx="440.7" cy="365" r="1.25"/>
<circle cx="472.8" cy="364.2" r="1.25"/>
<circle cx="579.4" cy="347" r="1.25"/>
<circle cx="610.4" cy="343.5" r="1.25"/>
<circle cx="630.5" cy="334.7" r="1.25"/>
<circle cx="633.4" cy="364" r="1.25"/>
<circle cx="570.42" cy="44.9" r="1.35"/>
<circle cx="570.15" cy="46" r="1.35"/>
<circle cx="570.34" cy="47.1" r="1.35"/>
<circle cx="570.32" cy="48.2" r="1.35"/>
<circle cx="570.53" cy="49.3" r="1.35"/>
<circle cx="570.44" cy="50.4" r="1.35"/>
<circle cx="570.17" cy="51.5" r="1.35"/>
<circle cx="570.59" cy="52.6" r="1.35"/>
<circle cx="570.07" cy="53.7" r="1.35"/>
<circle cx="570.25" cy="60.9" r="1.35"/>
<circle cx="570.45" cy="64.2" r="1.35"/>
<circle cx="570.09" cy="71.4" r="1.35"/>
<circle cx="570.29" cy="76.4" r="1.35"/>
<circle cx="570.02" cy="80.3" r="1.35"/>
<circle cx="570.4" cy="81.4" r="1.35"/>
<circle cx="570.46" cy="82.5" r="1.35"/>
<circle cx="570.34" cy="85.8" r="1.35"/>
<circle cx="570.53" cy="88" r="1.35"/>
<circle cx="570.19" cy="89.5" r="1.35"/>
<circle cx="570.42" cy="91" r="1.35"/>
<circle cx="570.36" cy="92.5" r="1.35"/>
<circle cx="570.35" cy="96.9" r="1.35"/>
<circle cx="570.27" cy="104.7" r="1.35"/>
<circle cx="570.5" cy="105.8" r="1.35"/>
<circle cx="570.57" cy="106.9" r="1.35"/>
<circle cx="570.28" cy="109.1" r="1.35"/>
<circle cx="570.4" cy="113.5" r="1.35"/>
<circle cx="570.04" cy="118.5" r="1.35"/>
<circle cx="570.42" cy="121.3" r="1.35"/>
<circle cx="570.39" cy="124.6" r="1.35"/>
<circle cx="570.6" cy="128" r="1.35"/>
<circle cx="570.49" cy="132.4" r="1.35"/>
<circle cx="570.17" cy="140.1" r="1.35"/>
<circle cx="570.23" cy="144.5" r="1.35"/>
<circle cx="570.4" cy="147.7" r="1.35"/>
<circle cx="570.01" cy="157.9" r="1.35"/>
<circle cx="570.28" cy="165.2" r="1.35"/>
<circle cx="570.1" cy="171.8" r="1.35"/>
<circle cx="570.07" cy="173.2" r="1.35"/>
<circle cx="570.04" cy="175.4" r="1.35"/>
<circle cx="570.46" cy="179.8" r="1.35"/>
<circle cx="570.08" cy="189.3" r="1.35"/>
<circle cx="570.15" cy="195.1" r="1.35"/>
<circle cx="570.23" cy="201" r="1.35"/>
<circle cx="570.52" cy="202.4" r="1.35"/>
<circle cx="570.05" cy="205.8" r="1.35"/>
<circle cx="570.27" cy="217.8" r="1.35"/>
<circle cx="570.33" cy="219.2" r="1.35"/>
<circle cx="570.53" cy="223.6" r="1.35"/>
<circle cx="570.49" cy="229.4" r="1.35"/>
<circle cx="570.52" cy="233.1" r="1.35"/>
<circle cx="570.17" cy="236" r="1.35"/>
<circle cx="570.25" cy="238.84" r="1.35"/>
<circle cx="570.22" cy="241.23" r="1.35"/>
<circle cx="570.53" cy="244.93" r="1.35"/>
<circle cx="570.57" cy="247.11" r="1.35"/>
<circle cx="570.09" cy="250.51" r="1.35"/>
<circle cx="570.11" cy="253.46" r="1.35"/>
<circle cx="570.14" cy="255.61" r="1.35"/>
<circle cx="570.14" cy="258.93" r="1.35"/>
<circle cx="570.29" cy="261.03" r="1.35"/>
<circle cx="570.35" cy="264.15" r="1.35"/>
<circle cx="570.16" cy="266.34" r="1.35"/>
<circle cx="570" cy="268.57" r="1.35"/>
<circle cx="570.25" cy="271.68" r="1.35"/>
<circle cx="570.22" cy="275.83" r="1.35"/>
<circle cx="570.34" cy="278.15" r="1.35"/>
<circle cx="570.57" cy="280.73" r="1.35"/>
<circle cx="570.41" cy="284.36" r="1.35"/>
<circle cx="570.31" cy="288.82" r="1.35"/>
<circle cx="570.37" cy="292.32" r="1.35"/>
<circle cx="570.41" cy="295.35" r="1.35"/>
<circle cx="570.03" cy="299.89" r="1.35"/>
<circle cx="570.54" cy="302.01" r="1.35"/>
<circle cx="570.47" cy="306.25" r="1.35"/>
<circle cx="570.52" cy="309" r="1.35"/>
<circle cx="570.48" cy="311.37" r="1.35"/>
<circle cx="570.24" cy="313.68" r="1.35"/>
<circle cx="570.24" cy="316.48" r="1.35"/>
<circle cx="570.06" cy="320.6" r="1.35"/>
<circle cx="570.38" cy="323.07" r="1.35"/>
<circle cx="570.04" cy="326.59" r="1.35"/>
<circle cx="570.04" cy="330.25" r="1.35"/>
<circle cx="570.13" cy="333.22" r="1.35"/>
<circle cx="570.1" cy="336.64" r="1.35"/>
<circle cx="570.2" cy="338.8" r="1.35"/>
<circle cx="570.03" cy="340.96" r="1.35"/>
<circle cx="570" cy="343.49" r="1.35"/>
<circle cx="570.09" cy="347.26" r="1.35"/>
<circle cx="570.06" cy="350.37" r="1.35"/>
<circle cx="570.22" cy="353.19" r="1.35"/>
<circle cx="570.02" cy="356.71" r="1.35"/>
<circle cx="570.52" cy="359.89" r="1.35"/>
<circle cx="570.37" cy="362.67" r="1.35"/>
<circle cx="618.48" cy="92.61" r="1.3"/>
<circle cx="618.78" cy="156.34" r="1.3"/>
<circle cx="620.09" cy="84.37" r="1.3"/>
<circle cx="619.06" cy="363.29" r="1.3"/>
<circle cx="618.03" cy="200.07" r="1.3"/>
<circle cx="618.73" cy="77.75" r="1.3"/>
<circle cx="620.04" cy="129.85" r="1.3"/>
<circle cx="617.86" cy="96.74" r="1.3"/>
<circle cx="619.23" cy="349.79" r="1.3"/>
<circle cx="619.27" cy="91.99" r="1.3"/>
<circle cx="619.23" cy="53.67" r="1.3"/>
<circle cx="620.13" cy="358.61" r="1.3"/>
<circle cx="618.51" cy="268.13" r="1.3"/>
<circle cx="618.25" cy="162.53" r="1.3"/>
<circle cx="619.24" cy="292.41" r="1.3"/>
<circle cx="618.69" cy="294.69" r="1.3"/>
<circle cx="619.99" cy="116.48" r="1.3"/>
<circle cx="620.1" cy="360.67" r="1.3"/>
<circle cx="620.01" cy="303.35" r="1.3"/>
<circle cx="618.41" cy="282.13" r="1.3"/>
<circle cx="618.76" cy="210.9" r="1.3"/>
<circle cx="617.88" cy="54.29" r="1.3"/>
<circle cx="618.5" cy="134.55" r="1.3"/>
<circle cx="620.38" cy="266.95" r="1.3"/>
<circle cx="620.33" cy="188.34" r="1.3"/>
<circle cx="620.38" cy="361.67" r="1.3"/>
<circle cx="618.4" cy="161.87" r="1.3"/>
<circle cx="618.33" cy="117.7" r="1.3"/>
<circle cx="619.48" cy="110.5" r="1.3"/>
<circle cx="620.07" cy="333.55" r="1.3"/>
<circle cx="619.56" cy="198.67" r="1.3"/>
<circle cx="618.03" cy="301.29" r="1.3"/>
<circle cx="620.26" cy="256.72" r="1.3"/>
<circle cx="619.83" cy="295.73" r="1.3"/>
<circle cx="618.28" cy="198.21" r="1.3"/>
<circle cx="618.7" cy="297.92" r="1.3"/>
<circle cx="620.42" cy="301.66" r="1.3"/>
<circle cx="618.88" cy="171.87" r="1.3"/>
<circle cx="619.76" cy="348.45" r="1.3"/>
<circle cx="618.14" cy="99.49" r="1.3"/>
<circle cx="620.24" cy="93.44" r="1.3"/>
<circle cx="618.19" cy="303.48" r="1.3"/>
<circle cx="620.45" cy="309.9" r="1.3"/>
<circle cx="618.75" cy="255.65" r="1.3"/>
<circle cx="618.15" cy="220.85" r="1.3"/>
<circle cx="620.42" cy="49.56" r="1.3"/>
<circle cx="619.22" cy="253.22" r="1.3"/>
<circle cx="618.97" cy="344.23" r="1.3"/>
<circle cx="620.03" cy="324.39" r="1.3"/>
<circle cx="618.48" cy="112.64" r="1.3"/>
<circle cx="618.45" cy="138.9" r="1.3"/>
<circle cx="618.5" cy="232.95" r="1.3"/>
<circle cx="618.15" cy="179.29" r="1.3"/>
<circle cx="618.76" cy="336.66" r="1.3"/>
<circle cx="619.38" cy="191.84" r="1.3"/>
<circle cx="618.94" cy="334.83" r="1.3"/>
<circle cx="619.15" cy="339.13" r="1.3"/>
<circle cx="619.21" cy="215.45" r="1.3"/>
<circle cx="618.99" cy="50.99" r="1.3"/>
<circle cx="617.81" cy="103.69" r="1.3"/>
<circle cx="618.27" cy="301.13" r="1.3"/>
<circle cx="619.76" cy="196.75" r="1.3"/>
<circle cx="618.68" cy="223.35" r="1.3"/>
<circle cx="619.3" cy="211.13" r="1.3"/>
<circle cx="618.09" cy="296.36" r="1.3"/>
<circle cx="618.47" cy="224.57" r="1.3"/>
<circle cx="619.89" cy="133.75" r="1.3"/>
<circle cx="619.32" cy="207.72" r="1.3"/>
<circle cx="620.26" cy="288.58" r="1.3"/>
<circle cx="619.45" cy="187.06" r="1.3"/>
<circle cx="619.18" cy="207.03" r="1.3"/>
<circle cx="619.02" cy="267.02" r="1.3"/>
<circle cx="619.09" cy="215.92" r="1.3"/>
<circle cx="619.69" cy="346.75" r="1.3"/>
<circle cx="620.34" cy="325.93" r="1.3"/>
<circle cx="619.31" cy="128.2" r="1.3"/>
<circle cx="620.07" cy="347.32" r="1.3"/>
<circle cx="618.13" cy="88.95" r="1.3"/>
<circle cx="618" cy="186.7" r="1.3"/>
<circle cx="618" cy="122.12" r="1.3"/>
<circle cx="619.92" cy="259.57" r="1.3"/>
<circle cx="618.22" cy="332.5" r="1.3"/>
<circle cx="619.58" cy="274.52" r="1.3"/>
<circle cx="620.18" cy="90.82" r="1.3"/>
<circle cx="618.39" cy="355.1" r="1.3"/>
<circle cx="618.88" cy="350.28" r="1.3"/>
<circle cx="620.47" cy="201.17" r="1.3"/>
<circle cx="618.24" cy="311.8" r="1.3"/>
<circle cx="619.19" cy="183.3" r="1.3"/>
<circle cx="618.33" cy="153.69" r="1.3"/>
<circle cx="619.75" cy="147.09" r="1.3"/>
<circle cx="619.3" cy="51.24" r="1.3"/>
<circle cx="617.85" cy="186.17" r="1.3"/>
<circle cx="619.48" cy="151.25" r="1.3"/>
<circle cx="617.97" cy="209.18" r="1.3"/>
<circle cx="619.93" cy="360.72" r="1.3"/>
<circle cx="618.08" cy="356.43" r="1.3"/>
<circle cx="617.91" cy="130.11" r="1.3"/>
<circle cx="618.53" cy="294.67" r="1.3"/>
<circle cx="618.94" cy="86.52" r="1.3"/>
<circle cx="620.01" cy="337.11" r="1.3"/>
<circle cx="618.2" cy="127.88" r="1.3"/>
<circle cx="619.34" cy="339.59" r="1.3"/>
<circle cx="618.04" cy="269.48" r="1.3"/>
<circle cx="619.66" cy="63.44" r="1.3"/>
<circle cx="618" cy="181.31" r="1.3"/>
<circle cx="619.51" cy="345.74" r="1.3"/>
<circle cx="618.03" cy="301.92" r="1.3"/>
<circle cx="617.98" cy="319.42" r="1.3"/>
<circle cx="619.03" cy="321.52" r="1.3"/>
<circle cx="619.29" cy="153.7" r="1.3"/>
<circle cx="618.52" cy="342" r="1.3"/>
<circle cx="619.22" cy="86.42" r="1.3"/>
<circle cx="618.1" cy="121.42" r="1.3"/>
<circle cx="617.94" cy="96.74" r="1.3"/>
<circle cx="618.64" cy="109.67" r="1.3"/>
<circle cx="619.85" cy="142.75" r="1.3"/>
<circle cx="619.15" cy="137.93" r="1.3"/>
<circle cx="618.74" cy="102.02" r="1.3"/>
<circle cx="618.48" cy="50.82" r="1.3"/>
<circle cx="619.78" cy="49.92" r="1.3"/>
<circle cx="618.31" cy="221.61" r="1.3"/>
<circle cx="620.32" cy="197.16" r="1.3"/>
<circle cx="620.01" cy="79.06" r="1.3"/>
<circle cx="619.14" cy="183.51" r="1.3"/>
<circle cx="618.86" cy="312.49" r="1.3"/>
<circle cx="619.66" cy="207.39" r="1.3"/>
<circle cx="618.73" cy="359.87" r="1.3"/>
<circle cx="619.71" cy="311.75" r="1.3"/>
<circle cx="618.89" cy="248.83" r="1.3"/>
<circle cx="617.95" cy="156.39" r="1.3"/>
<circle cx="617.99" cy="86.61" r="1.3"/>
<circle cx="618.49" cy="282.45" r="1.3"/>
<circle cx="618.03" cy="97.32" r="1.3"/>
<circle cx="620.15" cy="314.63" r="1.3"/>
<circle cx="618.56" cy="259.91" r="1.3"/>
<circle cx="618.59" cy="122.63" r="1.3"/>
<circle cx="618.23" cy="192.25" r="1.3"/>
<circle cx="618.51" cy="187.89" r="1.3"/>
<circle cx="620.43" cy="353.25" r="1.3"/>
<circle cx="618.46" cy="220.34" r="1.3"/>
<circle cx="618.64" cy="354.5" r="1.3"/>
<circle cx="617.8" cy="159.29" r="1.3"/>
<circle cx="619.08" cy="167.31" r="1.3"/>
<circle cx="618.34" cy="206.14" r="1.3"/>
<circle cx="617.81" cy="206.77" r="1.3"/>
<circle cx="618.04" cy="129.67" r="1.3"/>
<circle cx="617.91" cy="173.04" r="1.3"/>
<circle cx="618.62" cy="52.21" r="1.3"/>
<circle cx="619.38" cy="119.62" r="1.3"/>
<circle cx="619.83" cy="214.61" r="1.3"/>
<circle cx="619.73" cy="255.74" r="1.3"/>
<circle cx="618.85" cy="326.75" r="1.3"/>
<circle cx="620.46" cy="149.53" r="1.3"/>
<circle cx="619.76" cy="92.9" r="1.3"/>
<circle cx="617.92" cy="251.15" r="1.3"/>
<circle cx="620.21" cy="312.71" r="1.3"/>
<circle cx="619.78" cy="246.06" r="1.3"/>
<circle cx="618.18" cy="305.32" r="1.3"/>
<circle cx="619.16" cy="212.86" r="1.3"/>
<circle cx="619.97" cy="312.6" r="1.3"/>
<circle cx="619.38" cy="309.86" r="1.3"/>
<circle cx="619.64" cy="331.15" r="1.3"/>
<circle cx="618.42" cy="267.21" r="1.3"/>
<circle cx="618.16" cy="54.99" r="1.3"/>
<circle cx="618.08" cy="160.61" r="1.3"/>
<circle cx="619.31" cy="312.88" r="1.3"/>
<circle cx="619.49" cy="246.2" r="1.3"/>
<circle cx="619.12" cy="263.15" r="1.3"/>
<circle cx="619.95" cy="46.06" r="1.3"/>
</g>
<g fill="#4DBBD5" fill-opacity="0.8">
<circle cx="621.65" cy="45.2" r="1.45"/>
<circle cx="621.35" cy="46.3" r="1.45"/>
<circle cx="620.69" cy="47.56" r="1.45"/>
<circle cx="620.95" cy="48.9" r="1.45"/>
<circle cx="620.97" cy="49.57" r="1.45"/>
<circle cx="620.89" cy="50.9" r="1.45"/>
<circle cx="621.97" cy="52.24" r="1.45"/>
<circle cx="621.14" cy="53.34" r="1.45"/>
<circle cx="621.56" cy="54.42" r="1.45"/>
<circle cx="621.46" cy="55.78" r="1.45"/>
<circle cx="620.71" cy="57.03" r="1.45"/>
<circle cx="620.96" cy="57.77" r="1.45"/>
<circle cx="621.03" cy="59.12" r="1.45"/>
<circle cx="620.62" cy="60.28" r="1.45"/>
<circle cx="620.98" cy="60.94" r="1.45"/>
<circle cx="621.57" cy="62.22" r="1.45"/>
<circle cx="621.01" cy="63.49" r="1.45"/>
<circle cx="621.25" cy="64.61" r="1.45"/>
<circle cx="620.77" cy="65.68" r="1.45"/>
<circle cx="620.88" cy="67.17" r="1.45"/>
<circle cx="621.91" cy="68.75" r="1.45"/>
<circle cx="621.24" cy="69.36" r="1.45"/>
<circle cx="621.96" cy="70.78" r="1.45"/>
<circle cx="620.98" cy="71.83" r="1.45"/>
<circle cx="621.92" cy="72.64" r="1.45"/>
<circle cx="621.41" cy="73.45" r="1.45"/>
<circle cx="621.33" cy="74.2" r="1.45"/>
<circle cx="620.79" cy="75.75" r="1.45"/>
<circle cx="621.31" cy="77.17" r="1.45"/>
<circle cx="621.58" cy="78.66" r="1.45"/>
<circle cx="621.86" cy="79.49" r="1.45"/>
<circle cx="620.63" cy="80.57" r="1.45"/>
<circle cx="621.29" cy="81.18" r="1.45"/>
<circle cx="621.02" cy="82.23" r="1.45"/>
<circle cx="621.08" cy="82.97" r="1.45"/>
<circle cx="621.78" cy="83.88" r="1.45"/>
<circle cx="621.65" cy="84.49" r="1.45"/>
<circle cx="620.77" cy="85.93" r="1.45"/>
<circle cx="621.6" cy="87.45" r="1.45"/>
<circle cx="621.01" cy="88.95" r="1.45"/>
<circle cx="621.15" cy="89.93" r="1.45"/>
<circle cx="621.42" cy="91.52" r="1.45"/>
<circle cx="621.2" cy="92.48" r="1.45"/>
<circle cx="620.67" cy="93.36" r="1.45"/>
<circle cx="621.77" cy="94.06" r="1.45"/>
<circle cx="621.91" cy="94.95" r="1.45"/>
<circle cx="620.97" cy="95.8" r="1.45"/>
<circle cx="620.87" cy="96.91" r="1.45"/>
<circle cx="621.94" cy="97.88" r="1.45"/>
<circle cx="621.74" cy="99.37" r="1.45"/>
<circle cx="621.88" cy="100.6" r="1.45"/>
<circle cx="621.37" cy="102.14" r="1.45"/>
<circle cx="620.67" cy="103.46" r="1.45"/>
<circle cx="621.23" cy="104.79" r="1.45"/>
<circle cx="621.5" cy="106.14" r="1.45"/>
<circle cx="620.67" cy="107.03" r="1.45"/>
<circle cx="620.78" cy="108.55" r="1.45"/>
<circle cx="621.08" cy="109.63" r="1.45"/>
<circle cx="621.63" cy="110.52" r="1.45"/>
<circle cx="620.96" cy="112.1" r="1.45"/>
<circle cx="621.02" cy="113.36" r="1.45"/>
<circle cx="621.15" cy="114.51" r="1.45"/>
<circle cx="620.83" cy="115.28" r="1.45"/>
<circle cx="621.87" cy="116.09" r="1.45"/>
<circle cx="620.91" cy="117.19" r="1.45"/>
<circle cx="622" cy="118.69" r="1.45"/>
<circle cx="620.8" cy="119.74" r="1.45"/>
<circle cx="620.73" cy="120.54" r="1.45"/>
<circle cx="620.73" cy="121.48" r="1.45"/>
<circle cx="620.96" cy="122.32" r="1.45"/>
<circle cx="621.84" cy="123.49" r="1.45"/>
<circle cx="621.18" cy="124.84" r="1.45"/>
<circle cx="621.33" cy="125.85" r="1.45"/>
<circle cx="621.07" cy="126.83" r="1.45"/>
<circle cx="620.99" cy="127.49" r="1.45"/>
<circle cx="620.78" cy="129.06" r="1.45"/>
<circle cx="621.48" cy="130.16" r="1.45"/>
<circle cx="620.9" cy="131.62" r="1.45"/>
<circle cx="620.95" cy="132.49" r="1.45"/>
<circle cx="621.22" cy="133.49" r="1.45"/>
<circle cx="621.79" cy="135.05" r="1.45"/>
<circle cx="620.63" cy="136.52" r="1.45"/>
<circle cx="621.59" cy="137.15" r="1.45"/>
<circle cx="621.26" cy="138.65" r="1.45"/>
<circle cx="620.6" cy="139.83" r="1.45"/>
<circle cx="621.9" cy="140.83" r="1.45"/>
<circle cx="621.8" cy="142.25" r="1.45"/>
<circle cx="620.95" cy="143.82" r="1.45"/>
<circle cx="620.82" cy="144.53" r="1.45"/>
<circle cx="621.55" cy="145.66" r="1.45"/>
<circle cx="621.61" cy="147.2" r="1.45"/>
<circle cx="621.67" cy="148.44" r="1.45"/>
<circle cx="621.37" cy="149.5" r="1.45"/>
<circle cx="621.7" cy="150.14" r="1.45"/>
<circle cx="621.89" cy="150.97" r="1.45"/>
<circle cx="621.03" cy="152.22" r="1.45"/>
<circle cx="620.95" cy="152.95" r="1.45"/>
<circle cx="621.58" cy="154.18" r="1.45"/>
<circle cx="620.7" cy="154.9" r="1.45"/>
<circle cx="621.42" cy="156.02" r="1.45"/>
<circle cx="620.91" cy="157.01" r="1.45"/>
<circle cx="620.61" cy="158.21" r="1.45"/>
<circle cx="621.24" cy="159.11" r="1.45"/>
<circle cx="621.5" cy="160.67" r="1.45"/>
<circle cx="621.27" cy="162.15" r="1.45"/>
<circle cx="620.95" cy="162.99" r="1.45"/>
<circle cx="621.59" cy="164.55" r="1.45"/>
<circle cx="620.63" cy="165.46" r="1.45"/>
<circle cx="621.54" cy="166.55" r="1.45"/>
<circle cx="620.96" cy="167.57" r="1.45"/>
<circle cx="621.9" cy="168.84" r="1.45"/>
<circle cx="620.65" cy="169.67" r="1.45"/>
<circle cx="621.19" cy="170.61" r="1.45"/>
<circle cx="620.88" cy="171.89" r="1.45"/>
<circle cx="621.63" cy="173.29" r="1.45"/>
<circle cx="620.89" cy="174.39" r="1.45"/>
<circle cx="621.04" cy="175.96" r="1.45"/>
<circle cx="620.92" cy="177.38" r="1.45"/>
<circle cx="621.66" cy="178.2" r="1.45"/>
<circle cx="621.93" cy="179.1" r="1.45"/>
<circle cx="620.86" cy="180.19" r="1.45"/>
<circle cx="621.18" cy="181.02" r="1.45"/>
<circle cx="621.93" cy="182.28" r="1.45"/>
<circle cx="621.15" cy="183.03" r="1.45"/>
<circle cx="621.96" cy="183.84" r="1.45"/>
<circle cx="620.67" cy="184.58" r="1.45"/>
<circle cx="621.15" cy="185.24" r="1.45"/>
<circle cx="621.84" cy="186.74" r="1.45"/>
<circle cx="622" cy="188.07" r="1.45"/>
<circle cx="621.06" cy="189.61" r="1.45"/>
<circle cx="621.91" cy="190.39" r="1.45"/>
<circle cx="620.64" cy="191.74" r="1.45"/>
<circle cx="621.13" cy="193" r="1.45"/>
<circle cx="621.06" cy="193.98" r="1.45"/>
<circle cx="620.6" cy="194.75" r="1.45"/>
<circle cx="621.09" cy="195.63" r="1.45"/>
<circle cx="620.77" cy="197.18" r="1.45"/>
<circle cx="620.89" cy="198.74" r="1.45"/>
<circle cx="621.75" cy="199.7" r="1.45"/>
<circle cx="621.21" cy="201.12" r="1.45"/>
<circle cx="621.26" cy="201.77" r="1.45"/>
<circle cx="621.89" cy="202.75" r="1.45"/>
<circle cx="621.11" cy="203.54" r="1.45"/>
<circle cx="620.64" cy="205.04" r="1.45"/>
<circle cx="621.74" cy="206.05" r="1.45"/>
<circle cx="620.66" cy="207.41" r="1.45"/>
<circle cx="620.69" cy="208.05" r="1.45"/>
<circle cx="620.96" cy="209.57" r="1.45"/>
<circle cx="621.86" cy="210.92" r="1.45"/>
<circle cx="620.98" cy="211.85" r="1.45"/>
<circle cx="621.46" cy="213.41" r="1.45"/>
<circle cx="621.6" cy="214.27" r="1.45"/>
<circle cx="620.99" cy="215.19" r="1.45"/>
<circle cx="621.66" cy="215.79" r="1.45"/>
<circle cx="621.49" cy="217.31" r="1.45"/>
<circle cx="620.63" cy="218.85" r="1.45"/>
<circle cx="621.27" cy="219.69" r="1.45"/>
<circle cx="621.94" cy="221.24" r="1.45"/>
<circle cx="620.95" cy="222.23" r="1.45"/>
<circle cx="621.29" cy="223.26" r="1.45"/>
<circle cx="620.86" cy="224.79" r="1.45"/>
<circle cx="621.63" cy="226.19" r="1.45"/>
<circle cx="621.68" cy="227.61" r="1.45"/>
<circle cx="621.06" cy="228.82" r="1.45"/>
<circle cx="621.11" cy="229.74" r="1.45"/>
<circle cx="620.71" cy="231.12" r="1.45"/>
<circle cx="621.65" cy="231.92" r="1.45"/>
<circle cx="620.69" cy="232.77" r="1.45"/>
<circle cx="621.37" cy="233.4" r="1.45"/>
<circle cx="621.97" cy="234.33" r="1.45"/>
<circle cx="621.98" cy="235.81" r="1.45"/>
<circle cx="620.72" cy="236.68" r="1.45"/>
<circle cx="621.3" cy="237.37" r="1.45"/>
<circle cx="621.23" cy="238.68" r="1.45"/>
<circle cx="621.18" cy="239.52" r="1.45"/>
<circle cx="621.54" cy="240.74" r="1.45"/>
<circle cx="621.79" cy="242.08" r="1.45"/>
<circle cx="620.77" cy="243.35" r="1.45"/>
<circle cx="621.01" cy="244.79" r="1.45"/>
<circle cx="621.12" cy="245.96" r="1.45"/>
<circle cx="620.88" cy="247.3" r="1.45"/>
<circle cx="620.94" cy="248.14" r="1.45"/>
<circle cx="621.84" cy="248.9" r="1.45"/>
<circle cx="621.06" cy="250.07" r="1.45"/>
<circle cx="621.99" cy="251.07" r="1.45"/>
<circle cx="620.92" cy="252.18" r="1.45"/>
<circle cx="621.51" cy="253.59" r="1.45"/>
<circle cx="620.74" cy="255.18" r="1.45"/>
<circle cx="621.75" cy="256.25" r="1.45"/>
<circle cx="621.88" cy="257.69" r="1.45"/>
<circle cx="621.01" cy="258.33" r="1.45"/>
<circle cx="620.87" cy="259.05" r="1.45"/>
<circle cx="621.42" cy="260.62" r="1.45"/>
<circle cx="621.12" cy="262.16" r="1.45"/>
<circle cx="621.23" cy="263.62" r="1.45"/>
<circle cx="621.69" cy="264.48" r="1.45"/>
<circle cx="620.75" cy="266.03" r="1.45"/>
<circle cx="621.47" cy="267.22" r="1.45"/>
<circle cx="621.12" cy="268.04" r="1.45"/>
<circle cx="620.89" cy="268.78" r="1.45"/>
<circle cx="621.44" cy="269.64" r="1.45"/>
<circle cx="620.88" cy="270.89" r="1.45"/>
<circle cx="621.06" cy="271.5" r="1.45"/>
<circle cx="620.86" cy="272.78" r="1.45"/>
<circle cx="620.88" cy="273.69" r="1.45"/>
<circle cx="621.37" cy="275.09" r="1.45"/>
<circle cx="620.74" cy="275.75" r="1.45"/>
<circle cx="621.37" cy="276.74" r="1.45"/>
<circle cx="620.73" cy="277.98" r="1.45"/>
<circle cx="621.57" cy="278.75" r="1.45"/>
<circle cx="621" cy="279.76" r="1.45"/>
<circle cx="621.93" cy="280.66" r="1.45"/>
<circle cx="621.39" cy="281.58" r="1.45"/>
<circle cx="621.18" cy="282.53" r="1.45"/>
<circle cx="622" cy="284" r="1.45"/>
<circle cx="620.88" cy="284.96" r="1.45"/>
<circle cx="620.89" cy="286.29" r="1.45"/>
<circle cx="621.86" cy="286.9" r="1.45"/>
<circle cx="621.75" cy="287.92" r="1.45"/>
<circle cx="621.84" cy="288.93" r="1.45"/>
<circle cx="620.83" cy="289.99" r="1.45"/>
<circle cx="621.37" cy="290.6" r="1.45"/>
<circle cx="621.87" cy="291.84" r="1.45"/>
<circle cx="621.47" cy="292.53" r="1.45"/>
<circle cx="621.31" cy="293.5" r="1.45"/>
<circle cx="621" cy="294.25" r="1.45"/>
<circle cx="621.9" cy="295.37" r="1.45"/>
<circle cx="621.29" cy="296.08" r="1.45"/>
<circle cx="621.95" cy="297.48" r="1.45"/>
<circle cx="620.78" cy="298.28" r="1.45"/>
<circle cx="621.97" cy="299.82" r="1.45"/>
<circle cx="620.67" cy="300.91" r="1.45"/>
<circle cx="621.14" cy="302.43" r="1.45"/>
<circle cx="621.47" cy="303.94" r="1.45"/>
<circle cx="620.82" cy="305.36" r="1.45"/>
<circle cx="620.91" cy="306.75" r="1.45"/>
<circle cx="621.78" cy="307.75" r="1.45"/>
<circle cx="620.86" cy="309.18" r="1.45"/>
<circle cx="621.16" cy="310" r="1.45"/>
<circle cx="621.14" cy="311.12" r="1.45"/>
<circle cx="620.95" cy="311.84" r="1.45"/>
<circle cx="621.86" cy="313.16" r="1.45"/>
<circle cx="621.39" cy="313.81" r="1.45"/>
<circle cx="620.65" cy="315.16" r="1.45"/>
<circle cx="620.76" cy="316.6" r="1.45"/>
<circle cx="621.37" cy="317.8" r="1.45"/>
<circle cx="621.03" cy="319.03" r="1.45"/>
<circle cx="621.42" cy="320.05" r="1.45"/>
<circle cx="621.52" cy="321.07" r="1.45"/>
<circle cx="621.21" cy="322.12" r="1.45"/>
<circle cx="621.47" cy="322.74" r="1.45"/>
<circle cx="620.93" cy="323.83" r="1.45"/>
<circle cx="621.69" cy="325.2" r="1.45"/>
<circle cx="620.85" cy="326.26" r="1.45"/>
<circle cx="620.75" cy="327.33" r="1.45"/>
<circle cx="621.2" cy="328.06" r="1.45"/>
<circle cx="621.22" cy="328.75" r="1.45"/>
<circle cx="620.66" cy="329.86" r="1.45"/>
<circle cx="620.72" cy="331.1" r="1.45"/>
<circle cx="621.69" cy="332.43" r="1.45"/>
<circle cx="620.68" cy="333.54" r="1.45"/>
<circle cx="621.13" cy="334.64" r="1.45"/>
<circle cx="620.79" cy="336.19" r="1.45"/>
<circle cx="621.99" cy="337.65" r="1.45"/>
<circle cx="621.74" cy="338.98" r="1.45"/>
<circle cx="621.97" cy="339.78" r="1.45"/>
<circle cx="621.94" cy="340.87" r="1.45"/>
<circle cx="620.83" cy="342.39" r="1.45"/>
<circle cx="621.9" cy="343.77" r="1.45"/>
<circle cx="621.09" cy="344.44" r="1.45"/>
<circle cx="620.82" cy="345.8" r="1.45"/>
<circle cx="620.98" cy="347.29" r="1.45"/>
<circle cx="620.8" cy="348.71" r="1.45"/>
<circle cx="621.89" cy="349.81" r="1.45"/>
<circle cx="620.97" cy="350.62" r="1.45"/>
<circle cx="621.05" cy="351.72" r="1.45"/>
<circle cx="620.85" cy="352.36" r="1.45"/>
<circle cx="621.91" cy="353.12" r="1.45"/>
<circle cx="621.85" cy="354.4" r="1.45"/>
<circle cx="621.7" cy="355.17" r="1.45"/>
<circle cx="621.34" cy="355.89" r="1.45"/>
<circle cx="621.1" cy="357.12" r="1.45"/>
<circle cx="621.38" cy="358.6" r="1.45"/>
<circle cx="621.84" cy="359.78" r="1.45"/>
<circle cx="621.99" cy="360.48" r="1.45"/>
<circle cx="621.15" cy="361.71" r="1.45"/>
<circle cx="620.97" cy="363.11" r="1.45"/>
<circle cx="621.41" cy="364.7" r="1.45"/>
<circle cx="621.67" cy="365.66" r="1.45"/>
<circle cx="618.88" cy="283.45" r="1.3"/>
<circle cx="618.68" cy="307.84" r="1.3"/>
<circle cx="619.01" cy="250.06" r="1.3"/>
<circle cx="620.17" cy="232.98" r="1.3"/>
<circle cx="619.66" cy="145.55" r="1.3"/>
<circle cx="618.6" cy="56.31" r="1.3"/>
<circle cx="618.84" cy="242.64" r="1.3"/>
<circle cx="619.29" cy="209.56" r="1.3"/>
<circle cx="620.03" cy="87.75" r="1.3"/>
<circle cx="618.96" cy="254.49" r="1.3"/>
<circle cx="618.64" cy="46.34" r="1.3"/>
<circle cx="619.17" cy="79.54" r="1.3"/>
<circle cx="619.17" cy="117.26" r="1.3"/>
<circle cx="619.53" cy="234.01" r="1.3"/>
<circle cx="618.93" cy="245.16" r="1.3"/>
<circle cx="619.36" cy="88.62" r="1.3"/>
<circle cx="620.1" cy="123.45" r="1.3"/>
<circle cx="618.84" cy="76.16" r="1.3"/>
<circle cx="619.62" cy="324.31" r="1.3"/>
<circle cx="619.85" cy="174.12" r="1.3"/>
<circle cx="619.02" cy="49.18" r="1.3"/>
<circle cx="619.63" cy="225.45" r="1.3"/>
<circle cx="619.16" cy="252.09" r="1.3"/>
<circle cx="619.31" cy="345.39" r="1.3"/>
<circle cx="619.77" cy="125.02" r="1.3"/>
<circle cx="620.05" cy="59.58" r="1.3"/>
<circle cx="619.45" cy="175.42" r="1.3"/>
<circle cx="618.98" cy="64.18" r="1.3"/>
<circle cx="619.85" cy="49.45" r="1.3"/>
<circle cx="619.48" cy="346.59" r="1.3"/>
<circle cx="618.83" cy="109.35" r="1.3"/>
<circle cx="619.57" cy="207.72" r="1.3"/>
<circle cx="619.63" cy="305.78" r="1.3"/>
<circle cx="618.88" cy="144.5" r="1.3"/>
<circle cx="619.08" cy="61.02" r="1.3"/>
<circle cx="620.02" cy="296.05" r="1.3"/>
<circle cx="619.74" cy="47.53" r="1.3"/>
<circle cx="619.95" cy="283.96" r="1.3"/>
<circle cx="619.34" cy="282.86" r="1.3"/>
<circle cx="619.32" cy="117.8" r="1.3"/>
<circle cx="618.77" cy="119.83" r="1.3"/>
<circle cx="618.66" cy="152.87" r="1.3"/>
<circle cx="619.8" cy="267.93" r="1.3"/>
<circle cx="619.95" cy="273.24" r="1.3"/>
<circle cx="619.03" cy="222.71" r="1.3"/>
<circle cx="619.3" cy="297.8" r="1.3"/>
<circle cx="619.44" cy="130.39" r="1.3"/>
<circle cx="619.63" cy="354.35" r="1.3"/>
<circle cx="618.95" cy="327.11" r="1.3"/>
<circle cx="618.62" cy="128.82" r="1.3"/>
<circle cx="618.98" cy="283.54" r="1.3"/>
<circle cx="620.11" cy="284.27" r="1.3"/>
<circle cx="619.12" cy="327.15" r="1.3"/>
<circle cx="619.13" cy="122.03" r="1.3"/>
<circle cx="620.05" cy="247.32" r="1.3"/>
<circle cx="619.71" cy="258.38" r="1.3"/>
<circle cx="620.17" cy="195.74" r="1.3"/>
<circle cx="619.94" cy="268.74" r="1.3"/>
<circle cx="619.97" cy="185.41" r="1.3"/>
<circle cx="619.76" cy="228.01" r="1.3"/>
<circle cx="619.09" cy="113.33" r="1.3"/>
<circle cx="619.6" cy="70.4" r="1.3"/>
<circle cx="620.06" cy="91.77" r="1.3"/>
<circle cx="618.64" cy="79.64" r="1.3"/>
<circle cx="620.09" cy="155.86" r="1.3"/>
<circle cx="618.83" cy="54.69" r="1.3"/>
<circle cx="618.67" cy="267.14" r="1.3"/>
<circle cx="619.61" cy="268.54" r="1.3"/>
<circle cx="619.78" cy="66.54" r="1.3"/>
<circle cx="619.54" cy="161.79" r="1.3"/>
<circle cx="619.91" cy="307.76" r="1.3"/>
<circle cx="620.03" cy="66.6" r="1.3"/>
<circle cx="619.99" cy="338.11" r="1.3"/>
<circle cx="620.11" cy="79.78" r="1.3"/>
<circle cx="618.93" cy="81.33" r="1.3"/>
<circle cx="618.66" cy="316.77" r="1.3"/>
<circle cx="619.9" cy="248.44" r="1.3"/>
<circle cx="619.92" cy="247.59" r="1.3"/>
<circle cx="619.06" cy="77.46" r="1.3"/>
<circle cx="618.76" cy="287.86" r="1.3"/>
<circle cx="618.93" cy="147.62" r="1.3"/>
<circle cx="619.28" cy="52.19" r="1.3"/>
<circle cx="619.01" cy="135.93" r="1.3"/>
<circle cx="619.75" cy="163.27" r="1.3"/>
<circle cx="619.11" cy="353.98" r="1.3"/>
<circle cx="619.41" cy="317.94" r="1.3"/>
<circle cx="619.59" cy="55.41" r="1.3"/>
<circle cx="619.26" cy="185.16" r="1.3"/>
<circle cx="619.84" cy="156.47" r="1.3"/>
<circle cx="619.73" cy="217.62" r="1.3"/>
<circle cx="618.95" cy="321.42" r="1.3"/>
<circle cx="618.75" cy="307.84" r="1.3"/>
<circle cx="618.87" cy="45.92" r="1.3"/>
<circle cx="618.92" cy="289.4" r="1.3"/>
<circle cx="620.16" cy="46.9" r="1.3"/>
<circle cx="619.39" cy="202.77" r="1.3"/>
<circle cx="619.87" cy="104.55" r="1.3"/>
<circle cx="619.39" cy="156.6" r="1.3"/>
<circle cx="619.93" cy="128.88" r="1.3"/>
<circle cx="620.11" cy="136.29" r="1.3"/>
<circle cx="618.94" cy="269.33" r="1.3"/>
<circle cx="619.4" cy="80.68" r="1.3"/>
<circle cx="619.62" cy="71.38" r="1.3"/>
<circle cx="619.86" cy="268.59" r="1.3"/>
<circle cx="619.86" cy="246.44" r="1.3"/>
<circle cx="619.17" cy="173.91" r="1.3"/>
<circle cx="619.23" cy="330.43" r="1.3"/>
<circle cx="618.74" cy="329.8" r="1.3"/>
<circle cx="618.64" cy="111.46" r="1.3"/>
<circle cx="619.02" cy="333.89" r="1.3"/>
<circle cx="619.4" cy="166.88" r="1.3"/>
<circle cx="620.01" cy="120.24" r="1.3"/>
<circle cx="619.34" cy="215.59" r="1.3"/>
<circle cx="619.81" cy="286.46" r="1.3"/>
<circle cx="619.63" cy="157.02" r="1.3"/>
<circle cx="619.12" cy="95.2" r="1.3"/>
<circle cx="619.95" cy="257.37" r="1.3"/>
<circle cx="619.79" cy="99.76" r="1.3"/>
<circle cx="619.3" cy="293" r="1.3"/>
<circle cx="619.53" cy="85.84" r="1.3"/>
<circle cx="619.34" cy="328.74" r="1.3"/>
<circle cx="618.98" cy="106.8" r="1.3"/>
<circle cx="619.08" cy="270.51" r="1.3"/>
<circle cx="619.95" cy="94.97" r="1.3"/>
<circle cx="618.85" cy="124.73" r="1.3"/>
<circle cx="619.12" cy="212.6" r="1.3"/>
<circle cx="618.86" cy="150.48" r="1.3"/>
<circle cx="618.9" cy="357.55" r="1.3"/>
<circle cx="619.77" cy="78.08" r="1.3"/>
<circle cx="620.14" cy="78.02" r="1.3"/>
<circle cx="619.21" cy="360.33" r="1.3"/>
<circle cx="619.87" cy="280.15" r="1.3"/>
<circle cx="619.3" cy="108.28" r="1.3"/>
<circle cx="619.62" cy="79.7" r="1.3"/>
<circle cx="618.93" cy="169.77" r="1.3"/>
<circle cx="618.65" cy="173.19" r="1.3"/>
<circle cx="619.87" cy="267.4" r="1.3"/>
<circle cx="619.4" cy="247.86" r="1.3"/>
<circle cx="619.34" cy="90.88" r="1.3"/>
<circle cx="619.57" cy="175.01" r="1.3"/>
<circle cx="619.79" cy="336.06" r="1.3"/>
<circle cx="619.29" cy="229.17" r="1.3"/>
<circle cx="619.8" cy="180.27" r="1.3"/>
<circle cx="618.97" cy="276.61" r="1.3"/>
<circle cx="620.01" cy="293.2" r="1.3"/>
<circle cx="619.72" cy="318.28" r="1.3"/>
<circle cx="619.69" cy="250.79" r="1.3"/>
<circle cx="619.33" cy="145.66" r="1.3"/>
<circle cx="619.61" cy="76.82" r="1.3"/>
<circle cx="619.27" cy="295.86" r="1.3"/>
<circle cx="619.74" cy="246.98" r="1.3"/>
<circle cx="619" cy="181.05" r="1.3"/>
<circle cx="619.33" cy="244.4" r="1.3"/>
<circle cx="619.25" cy="261.58" r="1.3"/>
<circle cx="620.09" cy="104.08" r="1.3"/>
<circle cx="619.65" cy="294.52" r="1.3"/>
<circle cx="619.22" cy="202.25" r="1.3"/>
<circle cx="620.16" cy="57.71" r="1.3"/>
<circle cx="619.47" cy="96.97" r="1.3"/>
<circle cx="619.85" cy="346.49" r="1.3"/>
</g>
<path d="M44.15 365.57L55.84 360.1M59.38 358.43L64.8 355.9M68.79 354.02L79.13 349.18M89.14 344.46L89.14 344.46M132.1 323.86L133.96 322.93M140.63 319.63L143.3 318.31M150.78 314.61L164.82 307.66M167.83 306.17L170.5 304.84M173.1 303.57L177.65 301.35M184.21 298.14L193.92 293.39M202.08 289.41L207.02 286.99M214.54 283.33L214.54 283.33M220.02 280.67L223.15 279.14M227.64 276.97L242.59 269.71M247.07 267.53L247.54 267.3M251.21 265.53L251.49 265.4M256.87 262.81L259.98 261.32M264.31 259.24L264.58 259.11M268.87 257.05L268.87 257.05M274.22 254.48L274.5 254.35M280.24 251.59L282.28 250.61M290.39 246.66L290.39 246.66M295.44 244.19L300.48 241.73M304.7 239.66L304.7 239.66M310.9 236.63L313.64 235.29M319.72 232.32L326.05 229.25M329.78 227.44L331.24 226.73M335.57 224.63L344.35 220.37M350.18 217.56L350.31 217.49M354.56 215.47L356.15 214.71M367.11 209.5L374.26 206.1M378.78 203.93L388.38 199.25M391.99 197.49L402.43 192.4M408 189.69L412.55 187.49M417 185.34L421.26 183.27M424.87 181.53L430.81 178.65M435.82 176.24L440.93 173.8M443.97 172.35L449.36 169.78M452.4 168.33L458.63 165.36M470.8 159.45L474.4 157.69M482.54 153.71L482.54 153.71M487.23 151.41L487.23 151.41M494.12 148.07L512.5 139.17M524.02 133.54L535.78 127.78M540.44 125.53L540.45 125.52M552 120.03L561.61 115.46M564.52 114.08L582.9 105.43M586.13 103.9L586.13 103.9M591.58 101.27L591.66 101.23M595.86 99.2L595.86 99.2M600.42 97L600.42 97M606.9 93.84L621.58 86.42M624.67 84.85L639.76 77.14M649.42 72.66L655.96 69.71M664.72 65.59L670.7 62.73" fill="none" stroke="#E64B35" stroke-width="2.8" stroke-linecap="round" opacity="0.95"/>
<path d="M81.33 348.14L83.61 347.08M95.04 341.64L128.59 325.55" fill="none" stroke="#E64B35" stroke-width="2.0" stroke-linecap="round" opacity="0.8"/>
<g fill="#1c3640" fill-opacity="0.85">
<ellipse cx="72.1" cy="86.6" rx="1.7" ry="1.1"/>
<ellipse cx="76.5" cy="86.5" rx="1.7" ry="1.1"/>
<ellipse cx="89.6" cy="86.4" rx="1.7" ry="1.1"/>
<ellipse cx="62.2" cy="104.9" rx="1.7" ry="1.1"/>
<ellipse cx="221" cy="86.6" rx="1.7" ry="1.1"/>
<ellipse cx="221" cy="104.9" rx="1.7" ry="1.1"/>
<ellipse cx="303.9" cy="115.4" rx="1.7" ry="1.1"/>
<ellipse cx="382.3" cy="60.9" rx="1.7" ry="1.1"/>
<ellipse cx="392.6" cy="86.4" rx="1.7" ry="1.1"/>
<ellipse cx="392.6" cy="105.1" rx="1.7" ry="1.1"/>
<ellipse cx="436.4" cy="113.6" rx="1.7" ry="1.1"/>
<ellipse cx="436.4" cy="125.1" rx="1.7" ry="1.1"/>
<ellipse cx="456" cy="114" rx="1.7" ry="1.1"/>
<ellipse cx="513" cy="114" rx="1.7" ry="1.1"/>
<ellipse cx="430.5" cy="164.4" rx="1.7" ry="1.1"/>
<ellipse cx="375" cy="191.4" rx="1.7" ry="1.1"/>
<ellipse cx="410.1" cy="205.2" rx="1.7" ry="1.1"/>
<ellipse cx="428.3" cy="205.2" rx="1.7" ry="1.1"/>
<ellipse cx="512.3" cy="164.4" rx="1.7" ry="1.1"/>
<ellipse cx="561.9" cy="171.3" rx="1.7" ry="1.1"/>
<ellipse cx="570.3" cy="165" rx="1.7" ry="1.1"/>
<ellipse cx="570.3" cy="205.4" rx="1.7" ry="1.1"/>
<ellipse cx="256.8" cy="234" rx="1.7" ry="1.1"/>
<ellipse cx="151" cy="267.2" rx="1.7" ry="1.1"/>
<ellipse cx="583.5" cy="265.2" rx="1.7" ry="1.1"/>
<ellipse cx="666.3" cy="176.8" rx="1.7" ry="1.1"/>
<ellipse cx="670.2" cy="304.9" rx="1.7" ry="1.1"/>
<ellipse cx="666.3" cy="324.8" rx="1.7" ry="1.1"/>
<ellipse cx="635.6" cy="113.8" rx="1.7" ry="1.1"/>
<ellipse cx="570.3" cy="60.9" rx="1.7" ry="1.1"/>
<ellipse cx="570.3" cy="85.9" rx="1.7" ry="1.1"/>
</g>
<g stroke="#262626" stroke-width="1.05">
<line x1="42.6" y1="35.8" x2="42.6" y2="366.8"/>
<line x1="87.4" y1="35.8" x2="87.4" y2="366.8"/>
<line x1="131" y1="35.8" x2="131" y2="366.8"/>
<line x1="171.6" y1="35.8" x2="171.6" y2="366.8"/>
<line x1="211.3" y1="35.8" x2="211.3" y2="366.8"/>
<line x1="249.4" y1="35.8" x2="249.4" y2="366.8"/>
<line x1="284.8" y1="35.8" x2="284.8" y2="366.8"/>
<line x1="317.7" y1="35.8" x2="317.7" y2="366.8"/>
<line x1="348.2" y1="35.8" x2="348.2" y2="366.8"/>
<line x1="377.4" y1="35.8" x2="377.4" y2="366.8"/>
<line x1="405.5" y1="35.8" x2="405.5" y2="366.8"/>
<line x1="433.6" y1="35.8" x2="433.6" y2="366.8"/>
<line x1="461.7" y1="35.8" x2="461.7" y2="366.8"/>
<line x1="489.3" y1="35.8" x2="489.3" y2="366.8"/>
<line x1="514.1" y1="35.8" x2="514.1" y2="366.8"/>
<line x1="538.6" y1="35.8" x2="538.6" y2="366.8"/>
<line x1="563.2" y1="35.8" x2="563.2" y2="366.8"/>
<line x1="585.1" y1="35.8" x2="585.1" y2="366.8"/>
<line x1="605.8" y1="35.8" x2="605.8" y2="366.8"/>
<line x1="623.2" y1="35.8" x2="623.2" y2="366.8"/>
<line x1="641.6" y1="35.8" x2="641.6" y2="366.8"/>
<line x1="658.4" y1="35.8" x2="658.4" y2="366.8"/>
<line x1="675.8" y1="35.8" x2="675.8" y2="366.8"/>
<line x1="42.1" y1="36.3" x2="676.3" y2="36.3"/>
<line x1="42.1" y1="44.4" x2="676.3" y2="44.4"/>
<line x1="42.1" y1="60.3" x2="676.3" y2="60.3"/>
<line x1="42.1" y1="68.6" x2="676.3" y2="68.6"/>
<line x1="42.1" y1="76.2" x2="676.3" y2="76.2"/>
<line x1="42.1" y1="85.6" x2="676.3" y2="85.6"/>
<line x1="42.1" y1="94.4" x2="676.3" y2="94.4"/>
<line x1="42.1" y1="104.4" x2="676.3" y2="104.4"/>
<line x1="42.1" y1="114.7" x2="676.3" y2="114.7"/>
<line x1="42.1" y1="126.4" x2="676.3" y2="126.4"/>
<line x1="42.1" y1="138.4" x2="676.3" y2="138.4"/>
<line x1="42.1" y1="150.4" x2="676.3" y2="150.4"/>
<line x1="42.1" y1="163.9" x2="676.3" y2="163.9"/>
<line x1="42.1" y1="177.3" x2="676.3" y2="177.3"/>
<line x1="42.1" y1="190.9" x2="676.3" y2="190.9"/>
<line x1="42.1" y1="204.6" x2="676.3" y2="204.6"/>
<line x1="42.1" y1="218.5" x2="676.3" y2="218.5"/>
<line x1="42.1" y1="233.3" x2="676.3" y2="233.3"/>
<line x1="42.1" y1="249.4" x2="676.3" y2="249.4"/>
<line x1="42.1" y1="266.4" x2="676.3" y2="266.4"/>
<line x1="42.1" y1="284.9" x2="676.3" y2="284.9"/>
<line x1="42.1" y1="304.3" x2="676.3" y2="304.3"/>
<line x1="42.1" y1="324.4" x2="676.3" y2="324.4"/>
<line x1="42.1" y1="345.3" x2="676.3" y2="345.3"/>
<line x1="42.1" y1="366.3" x2="676.3" y2="366.3"/>
</g>
<text transform="translate(2.89 421.9) scale(1.2 1)" x="0" y="0" font-size="16.6" font-weight="bold" style="fill:#000;stroke:#000;stroke-width:0.45px">b</text>
<circle cx="52" cy="400.6" r="1.4" fill="#E64B35"/>
<text x="57.4" y="404.6" font-size="11.9" font-style="italic">Cis</text>
<circle cx="85.8" cy="400.6" r="1.4" fill="#4DBBD5"/>
<text x="91" y="404.6" font-size="11.9" font-style="italic">Trans</text>
<line x1="43.3" y1="410.8" x2="43.3" y2="567.3" stroke="#111" stroke-width="1.1"/>
<line x1="43.3" y1="567.3" x2="218.8" y2="567.3" stroke="#111" stroke-width="1.1"/>
<line x1="40" y1="560.7" x2="43.3" y2="560.7" stroke="#111" stroke-width="1"/>
<text x="38.4" y="564.8" font-size="11.9" text-anchor="end">0</text>
<line x1="40" y1="521.03" x2="43.3" y2="521.03" stroke="#111" stroke-width="1"/>
<text x="38.4" y="525.13" font-size="11.9" text-anchor="end">200</text>
<line x1="40" y1="481.37" x2="43.3" y2="481.37" stroke="#111" stroke-width="1"/>
<text x="38.4" y="485.47" font-size="11.9" text-anchor="end">400</text>
<line x1="40" y1="441.7" x2="43.3" y2="441.7" stroke="#111" stroke-width="1"/>
<text x="38.4" y="445.8" font-size="11.9" text-anchor="end">600</text>
<line x1="51.1" y1="567.3" x2="51.1" y2="570.6" stroke="#111" stroke-width="1"/>
<text x="48.1" y="581.4" font-size="11.5" text-anchor="middle">−1.0</text>
<line x1="76.1" y1="567.3" x2="76.1" y2="570.6" stroke="#111" stroke-width="1"/>
<text x="73.1" y="581.4" font-size="11.5" text-anchor="middle">−0.5</text>
<line x1="101.1" y1="567.3" x2="101.1" y2="570.6" stroke="#111" stroke-width="1"/>
<text x="101.1" y="581.4" font-size="11.5" text-anchor="middle">0</text>
<line x1="126.1" y1="567.3" x2="126.1" y2="570.6" stroke="#111" stroke-width="1"/>
<text x="126.1" y="581.4" font-size="11.5" text-anchor="middle">0.5</text>
<line x1="151.1" y1="567.3" x2="151.1" y2="570.6" stroke="#111" stroke-width="1"/>
<text x="151.1" y="581.4" font-size="11.5" text-anchor="middle">1.0</text>
<line x1="176.1" y1="567.3" x2="176.1" y2="570.6" stroke="#111" stroke-width="1"/>
<text x="176.1" y="581.4" font-size="11.5" text-anchor="middle">1.5</text>
<line x1="201.1" y1="567.3" x2="201.1" y2="570.6" stroke="#111" stroke-width="1"/>
<text x="201.1" y="581.4" font-size="11.5" text-anchor="middle">2.0</text>
<text x="127.5" y="596.9" font-size="11.9" text-anchor="middle">Distance of sentinel variant to TSS (Mb)</text>
<text transform="rotate(-90 9.2 491)" x="9.2" y="491" font-size="11.2" text-anchor="middle">−log<tspan font-size="8" dy="3">10</tspan><tspan dy="-3">(</tspan><tspan font-style="italic">P</tspan>)</text>
<path d="M99.7 422.6L102.7 425.6M99.7 425.6L102.7 422.6M105.3 416.5L108.3 419.5M105.3 419.5L108.3 416.5M99.7 442.4L102.7 445.4M99.7 445.4L102.7 442.4M100.2 480.9L103.2 483.9M100.2 483.9L103.2 480.9M100.2 482.7L103.2 485.7M100.2 485.7L103.2 482.7M100.2 484.6L103.2 487.6M100.2 487.6L103.2 484.6M103.8 493.9L106.8 496.9M103.8 496.9L106.8 493.9M99.6 500.3L102.6 503.3M99.6 503.3L102.6 500.3M99.6 504.9L102.6 507.9M99.6 507.9L102.6 504.9M99.6 509.3L102.6 512.3M99.6 512.3L102.6 509.3M109.2 513.2L112.2 516.2M109.2 516.2L112.2 513.2M115.4 512.2L118.4 515.2M115.4 515.2L118.4 512.2M118.4 525.3L121.4 528.3M118.4 528.3L121.4 525.3M77.9 534.8L80.9 537.8M77.9 537.8L80.9 534.8M105.5 529.5L108.5 532.5M105.5 532.5L108.5 529.5M77.9 548.7L80.9 551.7M77.9 551.7L80.9 548.7M81.6 549.6L84.6 552.6M81.6 552.6L84.6 549.6M90.8 546.7L93.8 549.7M90.8 549.7L93.8 546.7M67.7 554.5L70.7 557.5M67.7 557.5L70.7 554.5M83.8 554.9L86.8 557.9M83.8 557.9L86.8 554.9M87.1 552.9L90.1 555.9M87.1 555.9L90.1 552.9M107.5 543L110.5 546M107.5 546L110.5 543M114.5 546.3L117.5 549.3M114.5 549.3L117.5 546.3M111.4 550.9L114.4 553.9M111.4 553.9L114.4 550.9M106.2 538.5L109.2 541.5M106.2 541.5L109.2 538.5M123.3 552.9L126.3 555.9M123.3 555.9L126.3 552.9M115.4 554.2L118.4 557.2M115.4 557.2L118.4 554.2M118.7 554.2L121.7 557.2M118.7 557.2L121.7 554.2M95.7 523.7L98.7 526.7M95.7 526.7L98.7 523.7M97 520.7L100 523.7M97 523.7L100 520.7M98.3 522L101.3 525M98.3 525L101.3 522M100 516.1L103 519.1M100 519.1L103 516.1M101.5 516.7L104.5 519.7M101.5 519.7L104.5 516.7M103 517.5L106 520.5M103 520.5L106 517.5M67.8 554L70.8 557M67.8 557L70.8 554M83.3 554.5L86.3 557.5M83.3 557.5L86.3 554.5M107.1 542.5L110.1 545.5M107.1 545.5L110.1 542.5M113.7 546.5L116.7 549.5M113.7 549.5L116.7 546.5M110.9 550.5L113.9 553.5M110.9 553.5L113.9 550.5M115.6 554L118.6 557M115.6 557L118.6 554M123.2 552.5L126.2 555.5M123.2 555.5L126.2 552.5M147.5 555.1L150.5 558.1M147.5 558.1L150.5 555.1M132.7 556.5L135.7 559.5M132.7 559.5L135.7 556.5M140.3 556.5L143.3 559.5M140.3 559.5L143.3 556.5M165.9 558.8L168.9 561.8M165.9 561.8L168.9 558.8M168.7 558.8L171.7 561.8M168.7 561.8L171.7 558.8M164.7 559.1L167.7 562.1M164.7 562.1L167.7 559.1M167.7 559.1L170.7 562.1M167.7 562.1L170.7 559.1M180.1 558.7L183.1 561.7M180.1 561.7L183.1 558.7M198.7 558.7L201.7 561.7M198.7 561.7L201.7 558.7M201.9 559.1L204.9 562.1M201.9 562.1L204.9 559.1M209.9 559.1L212.9 562.1M209.9 562.1L212.9 559.1M104.4 529.3L107.4 532.3M104.4 532.3L107.4 529.3M126.5 554.5L129.5 557.5M126.5 557.5L129.5 554.5M129.5 556L132.5 559M129.5 559L132.5 556M144.5 555.7L147.5 558.7M144.5 558.7L147.5 555.7M148.5 555L151.5 558M148.5 558L151.5 555M153.5 556.3L156.5 559.3M153.5 559.3L156.5 556.3M101.47 526.96L104.47 529.96M101.47 529.96L104.47 526.96M101.11 527.48L104.11 530.48M101.11 530.48L104.11 527.48M98.25 531.72L101.25 534.72M98.25 534.72L101.25 531.72M99.96 534.4L102.96 537.4M99.96 537.4L102.96 534.4M97.43 527.02L100.43 530.02M97.43 530.02L100.43 527.02M101.79 519.54L104.79 522.54M101.79 522.54L104.79 519.54M98.38 530.92L101.38 533.92M98.38 533.92L101.38 530.92M101.48 517.44L104.48 520.44M101.48 520.44L104.48 517.44M99.83 538.13L102.83 541.13M99.83 541.13L102.83 538.13M100.45 521.08L103.45 524.08M100.45 524.08L103.45 521.08M101.45 524.09L104.45 527.09M101.45 527.09L104.45 524.09M100.21 524.59L103.21 527.59M100.21 527.59L103.21 524.59M99.49 531.26L102.49 534.26M99.49 534.26L102.49 531.26M100.92 519.89L103.92 522.89M100.92 522.89L103.92 519.89M101.58 532.3L104.58 535.3M101.58 535.3L104.58 532.3M99.51 519.75L102.51 522.75M99.51 522.75L102.51 519.75M99.4 533.74L102.4 536.74M99.4 536.74L102.4 533.74M100.66 517.6L103.66 520.6M100.66 520.6L103.66 517.6M100.77 533.14L103.77 536.14M100.77 536.14L103.77 533.14M98.38 525.76L101.38 528.76M98.38 528.76L101.38 525.76M100.6 527.99L103.6 530.99M100.6 530.99L103.6 527.99M103.41 522.98L106.41 525.98M103.41 525.98L106.41 522.98M101.1 529.83L104.1 532.83M101.1 532.83L104.1 529.83M97.93 525.73L100.93 528.73M97.93 528.73L100.93 525.73M99.46 521.56L102.46 524.56M99.46 524.56L102.46 521.56M99.9 534.51L102.9 537.51M99.9 537.51L102.9 534.51M101.51 552.31L104.51 555.31M101.51 555.31L104.51 552.31M98.09 554.05L101.09 557.05M98.09 557.05L101.09 554.05M105.29 555.01L108.29 558.01M105.29 558.01L108.29 555.01M100.19 554.18L103.19 557.18M100.19 557.18L103.19 554.18M96.52 549.71L99.52 552.71M96.52 552.71L99.52 549.71M101.96 552.16L104.96 555.16M101.96 555.16L104.96 552.16M103.47 539.4L106.47 542.4M103.47 542.4L106.47 539.4M103.41 541.59L106.41 544.59M103.41 544.59L106.41 541.59M109.89 556.47L112.89 559.47M109.89 559.47L112.89 556.47M103.38 554.11L106.38 557.11M103.38 557.11L106.38 554.11M101.31 541.83L104.31 544.83M101.31 544.83L104.31 541.83M107.08 555.41L110.08 558.41M107.08 558.41L110.08 555.41M97.64 538.2L100.64 541.2M97.64 541.2L100.64 538.2M98.12 538.11L101.12 541.11M98.12 541.11L101.12 538.11M101.08 539.89L104.08 542.89M101.08 542.89L104.08 539.89M103.31 542.85L106.31 545.85M103.31 545.85L106.31 542.85M98.74 538.48L101.74 541.48M98.74 541.48L101.74 538.48M99.23 555.56L102.23 558.56M99.23 558.56L102.23 555.56M98.27 556.27L101.27 559.27M98.27 559.27L101.27 556.27M100.42 549.29L103.42 552.29M100.42 552.29L103.42 549.29M103.73 539.12L106.73 542.12M103.73 542.12L106.73 539.12M100.31 547.74L103.31 550.74M100.31 550.74L103.31 547.74M98.66 539.84L101.66 542.84M98.66 542.84L101.66 539.84M102.56 556.15L105.56 559.15M102.56 559.15L105.56 556.15M103.42 545.83L106.42 548.83M103.42 548.83L106.42 545.83M100.52 536.86L103.52 539.86M100.52 539.86L103.52 536.86M98.31 535.14L101.31 538.14M98.31 538.14L101.31 535.14M99.84 556.4L102.84 559.4M99.84 559.4L102.84 556.4M97.49 546.12L100.49 549.12M97.49 549.12L100.49 546.12M104.83 549.83L107.83 552.83M104.83 552.83L107.83 549.83M100.66 542L103.66 545M100.66 545L103.66 542M102.84 547.95L105.84 550.95M102.84 550.95L105.84 547.95M101.58 553.42L104.58 556.42M101.58 556.42L104.58 553.42M97.28 553.76L100.28 556.76M97.28 556.76L100.28 553.76M98.53 535.37L101.53 538.37M98.53 538.37L101.53 535.37M95.61 553L98.61 556M95.61 556L98.61 553M107.26 547.13L110.26 550.13M107.26 550.13L110.26 547.13M104.23 543.42L107.23 546.42M104.23 546.42L107.23 543.42M102.11 553.29L105.11 556.29M102.11 556.29L105.11 553.29M100.16 546.56L103.16 549.56M100.16 549.56L103.16 546.56M102.53 541.44L105.53 544.44M102.53 544.44L105.53 541.44M98.27 546.08L101.27 549.08M98.27 549.08L101.27 546.08M99.36 546.88L102.36 549.88M99.36 549.88L102.36 546.88M98.32 550.2L101.32 553.2M98.32 553.2L101.32 550.2M100.48 555.94L103.48 558.94M100.48 558.94L103.48 555.94M100.54 537.45L103.54 540.45M100.54 540.45L103.54 537.45M102.42 552.04L105.42 555.04M102.42 555.04L105.42 552.04M95.12 553.98L98.12 556.98M95.12 556.98L98.12 553.98M98.82 550.97L101.82 553.97M98.82 553.97L101.82 550.97M101.38 536.78L104.38 539.78M101.38 539.78L104.38 536.78M99.71 555.77L102.71 558.77M99.71 558.77L102.71 555.77M103.26 547.42L106.26 550.42M103.26 550.42L106.26 547.42M94.26 551.68L97.26 554.68M94.26 554.68L97.26 551.68M96.49 549.8L99.49 552.8M96.49 552.8L99.49 549.8M104.12 555.93L107.12 558.93M104.12 558.93L107.12 555.93M100.81 556.47L103.81 559.47M100.81 559.47L103.81 556.47M103.9 535.67L106.9 538.67M103.9 538.67L106.9 535.67M99.62 556.47L102.62 559.47M99.62 559.47L102.62 556.47M102.04 554.99L105.04 557.99M102.04 557.99L105.04 554.99M97.11 539.36L100.11 542.36M97.11 542.36L100.11 539.36M96.48 556.08L99.48 559.08M96.48 559.08L99.48 556.08M98.17 536.83L101.17 539.83M98.17 539.83L101.17 536.83M100.98 535.74L103.98 538.74M100.98 538.74L103.98 535.74M100.51 545.44L103.51 548.44M100.51 548.44L103.51 545.44M103.82 543.22L106.82 546.22M103.82 546.22L106.82 543.22M97.14 556.26L100.14 559.26M97.14 559.26L100.14 556.26M103.43 547.42L106.43 550.42M103.43 550.42L106.43 547.42M98.16 541.19L101.16 544.19M98.16 544.19L101.16 541.19M103.27 551.05L106.27 554.05M103.27 554.05L106.27 551.05M103.56 541.53L106.56 544.53M103.56 544.53L106.56 541.53M110.06 553.42L113.06 556.42M110.06 556.42L113.06 553.42M99.59 540.25L102.59 543.25M99.59 543.25L102.59 540.25M104.83 546.63L107.83 549.63M104.83 549.63L107.83 546.63M99.28 553.15L102.28 556.15M99.28 556.15L102.28 553.15M98.12 538.3L101.12 541.3M98.12 541.3L101.12 538.3M102.01 538.04L105.01 541.04M102.01 541.04L105.01 538.04M102.54 553.58L105.54 556.58M102.54 556.58L105.54 553.58M100.12 547.13L103.12 550.13M100.12 550.13L103.12 547.13M103.43 538.33L106.43 541.33M103.43 541.33L106.43 538.33M101.04 538.98L104.04 541.98M101.04 541.98L104.04 538.98M103.48 553.73L106.48 556.73M103.48 556.73L106.48 553.73M97.54 537.46L100.54 540.46M97.54 540.46L100.54 537.46M94.48 556.07L97.48 559.07M94.48 559.07L97.48 556.07M98.81 542.61L101.81 545.61M98.81 545.61L101.81 542.61M96.35 554.35L99.35 557.35M96.35 557.35L99.35 554.35M97.08 554.74L100.08 557.74M97.08 557.74L100.08 554.74M105.19 542.58L108.19 545.58M105.19 545.58L108.19 542.58M100.31 540.9L103.31 543.9M100.31 543.9L103.31 540.9M98.8 538.01L101.8 541.01M98.8 541.01L101.8 538.01M96.52 548.73L99.52 551.73M96.52 551.73L99.52 548.73M100.73 554.93L103.73 557.93M100.73 557.93L103.73 554.93M98.16 544.04L101.16 547.04M98.16 547.04L101.16 544.04M118.39 548.84L121.39 551.84M118.39 551.84L121.39 548.84M107.55 551.94L110.55 554.94M107.55 554.94L110.55 551.94M95.83 555.37L98.83 558.37M95.83 558.37L98.83 555.37M100.65 552.49L103.65 555.49M100.65 555.49L103.65 552.49M101.28 534.84L104.28 537.84M101.28 537.84L104.28 534.84M97.39 553.93L100.39 556.93M97.39 556.93L100.39 553.93M104.76 550.88L107.76 553.88M104.76 553.88L107.76 550.88M99.19 535.77L102.19 538.77M99.19 538.77L102.19 535.77M104.54 556.38L107.54 559.38M104.54 559.38L107.54 556.38M93.75 556.31L96.75 559.31M93.75 559.31L96.75 556.31M98.92 536.33L101.92 539.33M98.92 539.33L101.92 536.33M104.39 556.23L107.39 559.23M104.39 559.23L107.39 556.23M100.01 535.92L103.01 538.92M100.01 538.92L103.01 535.92M102.2 536.01L105.2 539.01M102.2 539.01L105.2 536.01M98.45 551.56L101.45 554.56M98.45 554.56L101.45 551.56M100.39 534.79L103.39 537.79M100.39 537.79L103.39 534.79M99.98 556.38L102.98 559.38M99.98 559.38L102.98 556.38M101.75 537.76L104.75 540.76M101.75 540.76L104.75 537.76M101.3 556.33L104.3 559.33M101.3 559.33L104.3 556.33M103.68 535.01L106.68 538.01M103.68 538.01L106.68 535.01M102.32 536.59L105.32 539.59M102.32 539.59L105.32 536.59M106.18 553.32L109.18 556.32M106.18 556.32L109.18 553.32M100.03 552.88L103.03 555.88M100.03 555.88L103.03 552.88M101.78 555.23L104.78 558.23M101.78 558.23L104.78 555.23M99.87 555.52L102.87 558.52M99.87 558.52L102.87 555.52M104.6 554.89L107.6 557.89M104.6 557.89L107.6 554.89M99.58 536.78L102.58 539.78M99.58 539.78L102.58 536.78M103.55 538.28L106.55 541.28M103.55 541.28L106.55 538.28M101.42 536.95L104.42 539.95M101.42 539.95L104.42 536.95M96.52 552.59L99.52 555.59M96.52 555.59L99.52 552.59M99.02 549.76L102.02 552.76M99.02 552.76L102.02 549.76M98.76 556.28L101.76 559.28M98.76 559.28L101.76 556.28M103.39 547.96L106.39 550.96M103.39 550.96L106.39 547.96M101.98 551.18L104.98 554.18M101.98 554.18L104.98 551.18M105.82 552.69L108.82 555.69M105.82 555.69L108.82 552.69M101.71 537.81L104.71 540.81M101.71 540.81L104.71 537.81M100.02 538.08L103.02 541.08M100.02 541.08L103.02 538.08M97.49 554.67L100.49 557.67M97.49 557.67L100.49 554.67M100.47 554.8L103.47 557.8M100.47 557.8L103.47 554.8M100.58 534.82L103.58 537.82M100.58 537.82L103.58 534.82M100.95 553.47L103.95 556.47M100.95 556.47L103.95 553.47M99.45 553.41L102.45 556.41M99.45 556.41L102.45 553.41M106.26 556.47L109.26 559.47M106.26 559.47L109.26 556.47M102.14 556.5L105.14 559.5M102.14 559.5L105.14 556.5M97.04 550.69L100.04 553.69M97.04 553.69L100.04 550.69M98.52 554.57L101.52 557.57M98.52 557.57L101.52 554.57M99.59 542.01L102.59 545.01M99.59 545.01L102.59 542.01M101.31 554.87L104.31 557.87M101.31 557.87L104.31 554.87M102.37 551.42L105.37 554.42M102.37 554.42L105.37 551.42M94.27 553.79L97.27 556.79M94.27 556.79L97.27 553.79M108.32 555.18L111.32 558.18M108.32 558.18L111.32 555.18M104.82 550.92L107.82 553.92M104.82 553.92L107.82 550.92M90.34 554.63L93.34 557.63M90.34 557.63L93.34 554.63M99.93 554.55L102.93 557.55M99.93 557.55L102.93 554.55M90.05 555.17L93.05 558.17M90.05 558.17L93.05 555.17M97.89 555.39L100.89 558.39M97.89 558.39L100.89 555.39M112.71 552.95L115.71 555.95M112.71 555.95L115.71 552.95M88.93 555.87L91.93 558.87M88.93 558.87L91.93 555.87M101.97 556.97L104.97 559.97M101.97 559.97L104.97 556.97M79.26 556.29L82.26 559.29M79.26 559.29L82.26 556.29M140.32 556.47L143.32 559.47M140.32 559.47L143.32 556.47M68.16 556.47L71.16 559.47M68.16 559.47L71.16 556.47M114.75 556.1L117.75 559.1M114.75 559.1L117.75 556.1M106.64 556.55L109.64 559.55M106.64 559.55L109.64 556.55M106.19 556.22L109.19 559.22M106.19 559.22L109.19 556.22M127.68 556.92L130.68 559.92M127.68 559.92L130.68 556.92M143.97 556.42L146.97 559.42M143.97 559.42L146.97 556.42M127.31 556.48L130.31 559.48M127.31 559.48L130.31 556.48M131.64 556.16L134.64 559.16M131.64 559.16L134.64 556.16M144.76 557.05L147.76 560.05M144.76 560.05L147.76 557.05M103.94 556.61L106.94 559.61M103.94 559.61L106.94 556.61M107.8 556.64L110.8 559.64M107.8 559.64L110.8 556.64M52.73 557.07L55.73 560.07M52.73 560.07L55.73 557.07M74.66 556.28L77.66 559.28M74.66 559.28L77.66 556.28M61.59 556.35L64.59 559.35M61.59 559.35L64.59 556.35M138.75 556.13L141.75 559.13M138.75 559.13L141.75 556.13M60.92 556.8L63.92 559.8M60.92 559.8L63.92 556.8M71.57 556.12L74.57 559.12M71.57 559.12L74.57 556.12M115.24 556.68L118.24 559.68M115.24 559.68L118.24 556.68M106.97 556.8L109.97 559.8M106.97 559.8L109.97 556.8" stroke="#111" stroke-width="1.0" fill="none"/>
<rect x="49.8" y="558.6" width="112.8" height="3.1" fill="#111"/>
<text transform="translate(234.12 422) scale(1.2 1)" x="0" y="0" font-size="16.6" font-weight="bold" style="fill:#000;stroke:#000;stroke-width:0.45px">c</text>
<line x1="271.4" y1="410.9" x2="271.4" y2="565.6" stroke="#111" stroke-width="1.1"/>
<line x1="271.4" y1="565.6" x2="447.8" y2="565.6" stroke="#111" stroke-width="1.1"/>
<line x1="267.9" y1="559" x2="271.4" y2="559" stroke="#111" stroke-width="1"/>
<text x="265.5" y="563.1" font-size="11.9" text-anchor="end">0</text>
<line x1="267.9" y1="521" x2="271.4" y2="521" stroke="#111" stroke-width="1"/>
<text x="265.5" y="525.1" font-size="11.9" text-anchor="end">300</text>
<line x1="267.9" y1="483" x2="271.4" y2="483" stroke="#111" stroke-width="1"/>
<text x="265.5" y="487.1" font-size="11.9" text-anchor="end">600</text>
<line x1="267.9" y1="445" x2="271.4" y2="445" stroke="#111" stroke-width="1"/>
<text x="265.5" y="449.1" font-size="11.9" text-anchor="end">900</text>
<rect x="275.6" y="418.1" width="25.6" height="141.3" fill="#E64B35" stroke="#111" stroke-width="1.2"/>
<line x1="288.4" y1="565.6" x2="288.4" y2="569" stroke="#111" stroke-width="1"/>
<text x="288.4" y="579" font-size="11.9" text-anchor="middle">1</text>
<rect x="303.9" y="521" width="25.7" height="38.4" fill="#4DBBD5" stroke="#111" stroke-width="1.2"/>
<line x1="316.75" y1="565.6" x2="316.75" y2="569" stroke="#111" stroke-width="1"/>
<text x="316.75" y="579" font-size="11.9" text-anchor="middle">2</text>
<rect x="332.2" y="551.4" width="26.4" height="8" fill="#00A087" stroke="#111" stroke-width="1.2"/>
<line x1="345.4" y1="565.6" x2="345.4" y2="569" stroke="#111" stroke-width="1"/>
<text x="345.4" y="579" font-size="11.9" text-anchor="middle">3</text>
<rect x="360.7" y="557.8" width="26.3" height="1.6" fill="#3C5488" stroke="#111" stroke-width="1.2"/>
<line x1="373.85" y1="565.6" x2="373.85" y2="569" stroke="#111" stroke-width="1"/>
<text x="373.85" y="579" font-size="11.9" text-anchor="middle">4</text>
<rect x="389.1" y="558.4" width="26" height="1" fill="#F39B7F" stroke="#111" stroke-width="1.2"/>
<line x1="402.1" y1="565.6" x2="402.1" y2="569" stroke="#111" stroke-width="1"/>
<text x="402.1" y="579" font-size="11.9" text-anchor="middle">5</text>
<rect x="417.4" y="558.6" width="26.2" height="0.8" fill="#8491B4" stroke="#111" stroke-width="1.2"/>
<line x1="430.5" y1="565.6" x2="430.5" y2="569" stroke="#111" stroke-width="1"/>
<text x="430.5" y="579" font-size="11.9" text-anchor="middle">6</text>
<text x="360" y="592.4" font-size="11.9" text-anchor="middle">Number of loci</text>
<text x="240.2" y="494.5" font-size="11.9" text-anchor="middle" transform="rotate(-90 240.2 494.5)">Number of proteins</text>
<text transform="translate(455.98 421.9) scale(1.2 1)" x="0" y="0" font-size="16.6" font-weight="bold" style="fill:#000;stroke:#000;stroke-width:0.45px">d</text>
<line x1="506.9" y1="410.9" x2="506.9" y2="552.3" stroke="#111" stroke-width="1.1"/>
<line x1="506.9" y1="552.3" x2="683.5" y2="552.3" stroke="#111" stroke-width="1.1"/>
<line x1="503.2" y1="546.3" x2="506.9" y2="546.3" stroke="#111" stroke-width="1"/>
<text x="502" y="550.4" font-size="11.9" text-anchor="end">0</text>
<line x1="503.2" y1="503.57" x2="506.9" y2="503.57" stroke="#111" stroke-width="1"/>
<text x="502" y="507.67" font-size="11.9" text-anchor="end">500</text>
<line x1="503.2" y1="460.83" x2="506.9" y2="460.83" stroke="#111" stroke-width="1"/>
<text x="502" y="464.93" font-size="11.9" text-anchor="end">1,000</text>
<line x1="503.2" y1="418.1" x2="506.9" y2="418.1" stroke="#111" stroke-width="1"/>
<text x="502" y="422.2" font-size="11.9" text-anchor="end">1,500</text>
<rect x="511.5" y="417.5" width="31.2" height="129.1" fill="#E64B35" stroke="#111" stroke-width="1.2"/>
<line x1="527.1" y1="552.3" x2="527.1" y2="556" stroke="#111" stroke-width="1"/>
<text x="527.1" y="565.7" font-size="11.9" text-anchor="middle">1</text>
<rect x="546" y="524.8" width="30.9" height="21.8" fill="#4DBBD5" stroke="#111" stroke-width="1.2"/>
<line x1="561.45" y1="552.3" x2="561.45" y2="556" stroke="#111" stroke-width="1"/>
<text x="561.45" y="565.7" font-size="11.9" text-anchor="middle">2</text>
<rect x="580.1" y="537.2" width="31.4" height="9.4" fill="#00A087" stroke="#111" stroke-width="1.2"/>
<line x1="595.8" y1="552.3" x2="595.8" y2="556" stroke="#111" stroke-width="1"/>
<text x="595.8" y="565.7" font-size="11.9" text-anchor="middle">3</text>
<rect x="614" y="543.2" width="31.5" height="3.4" fill="#3C5488" stroke="#111" stroke-width="1.2"/>
<line x1="629.75" y1="552.3" x2="629.75" y2="556" stroke="#111" stroke-width="1"/>
<text x="629.75" y="565.7" font-size="11.9" text-anchor="middle">4</text>
<rect x="648.1" y="543.2" width="31.9" height="3.4" fill="#F39B7F" stroke="#111" stroke-width="1.2"/>
<line x1="664.05" y1="552.3" x2="664.05" y2="556" stroke="#111" stroke-width="1"/>
<text x="664.05" y="565.7" font-size="11.9" text-anchor="middle">&gt;4</text>
<text x="598.2" y="580.4" font-size="11.9" text-anchor="middle">No. of conditionally significant</text>
<text x="598" y="592.7" font-size="11.9" text-anchor="middle">associations</text>
<text x="467.2" y="483.8" font-size="11.9" text-anchor="middle" transform="rotate(-90 467.2 483.8)">Number of pQTLs</text>
<text transform="translate(3.22 605.7) scale(1.2 1)" x="0" y="0" font-size="16.6" font-weight="bold" style="fill:#000;stroke:#000;stroke-width:0.45px">e</text>
<line x1="40.9" y1="611.4" x2="40.9" y2="765.4" stroke="#111" stroke-width="1.1"/>
<line x1="40.9" y1="765.4" x2="219.8" y2="765.4" stroke="#111" stroke-width="1.1"/>
<line x1="37.6" y1="758.2" x2="40.9" y2="758.2" stroke="#111" stroke-width="1"/>
<text x="34.6" y="762.3" font-size="11.9" text-anchor="end">0</text>
<line x1="37.6" y1="716.6" x2="40.9" y2="716.6" stroke="#111" stroke-width="1"/>
<text x="34.6" y="720.7" font-size="11.9" text-anchor="end">200</text>
<line x1="37.6" y1="675" x2="40.9" y2="675" stroke="#111" stroke-width="1"/>
<text x="34.6" y="679.1" font-size="11.9" text-anchor="end">400</text>
<line x1="37.6" y1="633.4" x2="40.9" y2="633.4" stroke="#111" stroke-width="1"/>
<text x="34.6" y="637.5" font-size="11.9" text-anchor="end">600</text>
<line x1="49.2" y1="765.4" x2="49.2" y2="768.6" stroke="#111" stroke-width="1"/>
<text x="49.2" y="781" font-size="11.9" text-anchor="middle">0</text>
<line x1="89.6" y1="765.4" x2="89.6" y2="768.6" stroke="#111" stroke-width="1"/>
<text x="89.6" y="781" font-size="11.9" text-anchor="middle">0.2</text>
<line x1="130" y1="765.4" x2="130" y2="768.6" stroke="#111" stroke-width="1"/>
<text x="130" y="781" font-size="11.9" text-anchor="middle">0.4</text>
<line x1="170.4" y1="765.4" x2="170.4" y2="768.6" stroke="#111" stroke-width="1"/>
<text x="170.4" y="781" font-size="11.9" text-anchor="middle">0.6</text>
<line x1="210.8" y1="765.4" x2="210.8" y2="768.6" stroke="#111" stroke-width="1"/>
<text x="210.8" y="781" font-size="11.9" text-anchor="middle">0.8</text>
<g fill="#fff" stroke="#111" stroke-width="1.1">
<rect x="49.2" y="618.6" width="10.12" height="139.6"/>
<rect x="59.32" y="686.4" width="10.12" height="71.8"/>
<rect x="69.44" y="719" width="10.12" height="39.2"/>
<rect x="79.56" y="741.5" width="10.12" height="16.7"/>
<rect x="89.68" y="748.2" width="10.12" height="10"/>
<rect x="99.8" y="751.7" width="10.12" height="6.5"/>
<rect x="109.92" y="754" width="10.12" height="4.2"/>
<rect x="120.04" y="752.6" width="10.12" height="5.6"/>
<rect x="130.16" y="754.9" width="10.12" height="3.3"/>
<rect x="140.28" y="755.5" width="10.12" height="2.7"/>
<rect x="150.4" y="756.4" width="10.12" height="1.8"/>
<rect x="160.52" y="756" width="10.12" height="2.2"/>
<rect x="170.64" y="756.9" width="10.12" height="1.3"/>
<rect x="180.76" y="757.5" width="10.12" height="0.7"/>
<rect x="190.88" y="756.6" width="10.12" height="1.6"/>
<rect x="201" y="758.2" width="10.12" height="0"/>
</g>
<line x1="49.2" y1="758.2" x2="211.2" y2="758.2" stroke="#111" stroke-width="1.1"/>
<text x="130.2" y="796.6" font-size="11.7" text-anchor="middle">Adjusted <tspan font-style="italic">R</tspan><tspan font-size="8" dy="-4.5">2</tspan></text>
<text x="10" y="690.5" font-size="11.9" text-anchor="middle" transform="rotate(-90 10 690.5)">Number of proteins</text>
<text transform="translate(232.96 605.8) scale(1.2 1)" x="0" y="0" font-size="16.6" font-weight="bold" style="fill:#000;stroke:#000;stroke-width:0.45px">f</text>
<line x1="265.3" y1="608.8" x2="265.3" y2="765" stroke="#111" stroke-width="1.1"/>
<line x1="265.3" y1="765" x2="447.2" y2="765" stroke="#111" stroke-width="1.1"/>
<line x1="261.8" y1="737.2" x2="265.3" y2="737.2" stroke="#111" stroke-width="1"/>
<text x="258.8" y="741.3" font-size="11.9" text-anchor="end">0.5</text>
<line x1="261.8" y1="706.7" x2="265.3" y2="706.7" stroke="#111" stroke-width="1"/>
<text x="258.8" y="710.8" font-size="11.9" text-anchor="end">1.0</text>
<line x1="261.8" y1="676.2" x2="265.3" y2="676.2" stroke="#111" stroke-width="1"/>
<text x="258.8" y="680.3" font-size="11.9" text-anchor="end">1.5</text>
<line x1="261.8" y1="645.7" x2="265.3" y2="645.7" stroke="#111" stroke-width="1"/>
<text x="258.8" y="649.8" font-size="11.9" text-anchor="end">2.0</text>
<line x1="261.8" y1="615.2" x2="265.3" y2="615.2" stroke="#111" stroke-width="1"/>
<text x="258.8" y="619.3" font-size="11.9" text-anchor="end">2.5</text>
<line x1="272.4" y1="765" x2="272.4" y2="768.4" stroke="#111" stroke-width="1"/>
<text x="272.4" y="781" font-size="11.9" text-anchor="middle">0</text>
<line x1="305.8" y1="765" x2="305.8" y2="768.4" stroke="#111" stroke-width="1"/>
<text x="305.8" y="781" font-size="11.9" text-anchor="middle">0.1</text>
<line x1="339.2" y1="765" x2="339.2" y2="768.4" stroke="#111" stroke-width="1"/>
<text x="339.2" y="781" font-size="11.9" text-anchor="middle">0.2</text>
<line x1="372.6" y1="765" x2="372.6" y2="768.4" stroke="#111" stroke-width="1"/>
<text x="372.6" y="781" font-size="11.9" text-anchor="middle">0.3</text>
<line x1="406" y1="765" x2="406" y2="768.4" stroke="#111" stroke-width="1"/>
<text x="406" y="781" font-size="11.9" text-anchor="middle">0.4</text>
<line x1="439.4" y1="765" x2="439.4" y2="768.4" stroke="#111" stroke-width="1"/>
<text x="439.4" y="781" font-size="11.9" text-anchor="middle">0.5</text>
<text x="355.4" y="797" font-size="11.9" text-anchor="middle">MAF</text>
<text x="239.6" y="687.1" font-size="11.9" text-anchor="middle" transform="rotate(-90 239.6 687.1)">Effect size</text>
<circle cx="400.6" cy="623.3" r="1.3" fill="#E64B35"/>
<text x="404.2" y="627.3" font-size="11.9" font-style="italic">Cis</text>
<circle cx="400.6" cy="633.9" r="1.3" fill="#4DBBD5"/>
<text x="404.2" y="637.9" font-size="11.9" font-style="italic">Trans</text>
<g fill="#E64B35">
<circle cx="366.03" cy="754.82" r="1.15"/>
<circle cx="284.67" cy="730.86" r="1.15"/>
<circle cx="316.59" cy="686.12" r="1.15"/>
<circle cx="415.85" cy="749.35" r="1.15"/>
<circle cx="342.19" cy="753" r="1.15"/>
<circle cx="410.65" cy="698.89" r="1.15"/>
<circle cx="283.25" cy="674.17" r="1.15"/>
<circle cx="366.62" cy="754.78" r="1.15"/>
<circle cx="430.13" cy="733.95" r="1.15"/>
<circle cx="297.49" cy="743.93" r="1.15"/>
<circle cx="372.13" cy="711.78" r="1.15"/>
<circle cx="356.18" cy="734.64" r="1.15"/>
<circle cx="310.13" cy="709.01" r="1.15"/>
<circle cx="283.8" cy="697.53" r="1.15"/>
<circle cx="322.01" cy="720.19" r="1.15"/>
<circle cx="348.75" cy="754.31" r="1.15"/>
<circle cx="327.5" cy="743.98" r="1.15"/>
<circle cx="357.1" cy="753.5" r="1.15"/>
<circle cx="308.49" cy="741.88" r="1.15"/>
<circle cx="279.82" cy="731.44" r="1.15"/>
<circle cx="413.12" cy="738.07" r="1.15"/>
<circle cx="362.28" cy="705.34" r="1.15"/>
<circle cx="289.98" cy="741" r="1.15"/>
<circle cx="433.92" cy="748.94" r="1.15"/>
<circle cx="381.69" cy="747.53" r="1.15"/>
<circle cx="335.49" cy="742.81" r="1.15"/>
<circle cx="408.11" cy="721" r="1.15"/>
<circle cx="279.19" cy="730.82" r="1.15"/>
<circle cx="290.92" cy="740.38" r="1.15"/>
<circle cx="284.16" cy="706.74" r="1.15"/>
<circle cx="439.15" cy="746.43" r="1.15"/>
<circle cx="345.01" cy="748.48" r="1.15"/>
<circle cx="369.63" cy="754" r="1.15"/>
<circle cx="376.8" cy="687.83" r="1.15"/>
<circle cx="384.23" cy="731.58" r="1.15"/>
<circle cx="317.53" cy="741.48" r="1.15"/>
<circle cx="308.68" cy="702.31" r="1.15"/>
<circle cx="422.96" cy="753.88" r="1.15"/>
<circle cx="366.64" cy="754.64" r="1.15"/>
<circle cx="416.2" cy="741.31" r="1.15"/>
<circle cx="373.75" cy="752.55" r="1.15"/>
<circle cx="308.11" cy="750.09" r="1.15"/>
<circle cx="339.88" cy="729.16" r="1.15"/>
<circle cx="307.06" cy="709.56" r="1.15"/>
<circle cx="349.12" cy="748.42" r="1.15"/>
<circle cx="418.05" cy="749.84" r="1.15"/>
<circle cx="380.99" cy="720.83" r="1.15"/>
<circle cx="349.72" cy="738.99" r="1.15"/>
<circle cx="363.63" cy="738.02" r="1.15"/>
<circle cx="319.86" cy="731.9" r="1.15"/>
<circle cx="327.3" cy="750.04" r="1.15"/>
<circle cx="286.84" cy="742.13" r="1.15"/>
<circle cx="281.84" cy="681.47" r="1.15"/>
<circle cx="398.61" cy="713.25" r="1.15"/>
<circle cx="330.76" cy="712.12" r="1.15"/>
<circle cx="372.18" cy="751.31" r="1.15"/>
<circle cx="325.72" cy="749.43" r="1.15"/>
<circle cx="426.02" cy="694.25" r="1.15"/>
<circle cx="278.67" cy="728.76" r="1.15"/>
<circle cx="353.07" cy="738.55" r="1.15"/>
<circle cx="386.25" cy="750.68" r="1.15"/>
<circle cx="329.87" cy="737.79" r="1.15"/>
<circle cx="350.29" cy="696.41" r="1.15"/>
<circle cx="291.42" cy="709.99" r="1.15"/>
<circle cx="298.86" cy="691.97" r="1.15"/>
<circle cx="434.91" cy="745.66" r="1.15"/>
<circle cx="280.21" cy="732.28" r="1.15"/>
<circle cx="357.84" cy="730.22" r="1.15"/>
<circle cx="313.29" cy="746" r="1.15"/>
<circle cx="404.21" cy="752.98" r="1.15"/>
<circle cx="405.03" cy="747.97" r="1.15"/>
<circle cx="358.28" cy="753.82" r="1.15"/>
<circle cx="317.14" cy="751.93" r="1.15"/>
<circle cx="304.78" cy="681.19" r="1.15"/>
<circle cx="282.71" cy="736.25" r="1.15"/>
<circle cx="290.91" cy="732.2" r="1.15"/>
<circle cx="415.82" cy="755.55" r="1.15"/>
<circle cx="428.63" cy="751.97" r="1.15"/>
<circle cx="340.45" cy="749.23" r="1.15"/>
<circle cx="373.43" cy="731.51" r="1.15"/>
<circle cx="284.19" cy="717.73" r="1.15"/>
<circle cx="431.31" cy="746.9" r="1.15"/>
<circle cx="434.96" cy="756.09" r="1.15"/>
<circle cx="287.17" cy="738.18" r="1.15"/>
<circle cx="354.96" cy="751.79" r="1.15"/>
<circle cx="342.21" cy="739.4" r="1.15"/>
<circle cx="316.61" cy="750.29" r="1.15"/>
<circle cx="321.16" cy="751.36" r="1.15"/>
<circle cx="425.98" cy="687.82" r="1.15"/>
<circle cx="411.65" cy="752.98" r="1.15"/>
<circle cx="376.37" cy="721.76" r="1.15"/>
<circle cx="358.18" cy="751.93" r="1.15"/>
<circle cx="353.63" cy="743.54" r="1.15"/>
<circle cx="419.34" cy="739.31" r="1.15"/>
<circle cx="292.26" cy="738.95" r="1.15"/>
<circle cx="317.61" cy="712.52" r="1.15"/>
<circle cx="288.18" cy="743.17" r="1.15"/>
<circle cx="284.72" cy="740.25" r="1.15"/>
<circle cx="423.03" cy="728.56" r="1.15"/>
<circle cx="420.41" cy="752.39" r="1.15"/>
<circle cx="392.45" cy="747.21" r="1.15"/>
<circle cx="431.76" cy="753.14" r="1.15"/>
<circle cx="283.85" cy="732.44" r="1.15"/>
<circle cx="329.86" cy="751.63" r="1.15"/>
<circle cx="309.13" cy="750.46" r="1.15"/>
<circle cx="283.95" cy="737.29" r="1.15"/>
<circle cx="290.07" cy="729.33" r="1.15"/>
<circle cx="294.47" cy="746.58" r="1.15"/>
<circle cx="410.07" cy="755.51" r="1.15"/>
<circle cx="350.13" cy="752.23" r="1.15"/>
<circle cx="420.74" cy="755.09" r="1.15"/>
<circle cx="361.18" cy="748.42" r="1.15"/>
<circle cx="284.43" cy="740.9" r="1.15"/>
<circle cx="365.92" cy="752.86" r="1.15"/>
<circle cx="438.25" cy="753.94" r="1.15"/>
<circle cx="406.23" cy="742.51" r="1.15"/>
<circle cx="409.32" cy="690.21" r="1.15"/>
<circle cx="404.62" cy="720.3" r="1.15"/>
<circle cx="373.38" cy="754.56" r="1.15"/>
<circle cx="343.76" cy="754.19" r="1.15"/>
<circle cx="279.14" cy="729.5" r="1.15"/>
<circle cx="284.45" cy="715.93" r="1.15"/>
<circle cx="420.05" cy="754.32" r="1.15"/>
<circle cx="324.52" cy="749.78" r="1.15"/>
<circle cx="387.68" cy="752.1" r="1.15"/>
<circle cx="304.1" cy="688.39" r="1.15"/>
<circle cx="276.98" cy="698.38" r="1.15"/>
<circle cx="323.63" cy="748.89" r="1.15"/>
<circle cx="392.22" cy="755.65" r="1.15"/>
<circle cx="285.33" cy="739.91" r="1.15"/>
<circle cx="360.54" cy="747.86" r="1.15"/>
<circle cx="300.67" cy="731.71" r="1.15"/>
<circle cx="354.64" cy="742.83" r="1.15"/>
<circle cx="404.62" cy="734.3" r="1.15"/>
<circle cx="359.04" cy="752.89" r="1.15"/>
<circle cx="273.57" cy="674.44" r="1.15"/>
<circle cx="275.96" cy="719.22" r="1.15"/>
<circle cx="427.86" cy="756.1" r="1.15"/>
<circle cx="436.8" cy="742.63" r="1.15"/>
<circle cx="302.06" cy="742.44" r="1.15"/>
<circle cx="284.14" cy="706.92" r="1.15"/>
<circle cx="325.37" cy="752.03" r="1.15"/>
<circle cx="322.3" cy="707.47" r="1.15"/>
<circle cx="324.27" cy="750.47" r="1.15"/>
<circle cx="331.72" cy="695.69" r="1.15"/>
<circle cx="363.8" cy="743.77" r="1.15"/>
<circle cx="359.02" cy="726.15" r="1.15"/>
<circle cx="345.4" cy="693.74" r="1.15"/>
<circle cx="293.83" cy="736.2" r="1.15"/>
<circle cx="276.61" cy="723.42" r="1.15"/>
<circle cx="408.85" cy="755.53" r="1.15"/>
<circle cx="355.71" cy="754.74" r="1.15"/>
<circle cx="318.74" cy="750.01" r="1.15"/>
<circle cx="308.95" cy="748.87" r="1.15"/>
<circle cx="324.06" cy="690.78" r="1.15"/>
<circle cx="388.42" cy="745.07" r="1.15"/>
<circle cx="420.89" cy="728.14" r="1.15"/>
<circle cx="435.42" cy="749.67" r="1.15"/>
<circle cx="292.41" cy="743.61" r="1.15"/>
<circle cx="340.11" cy="743.31" r="1.15"/>
<circle cx="292.58" cy="686.38" r="1.15"/>
<circle cx="438.63" cy="753.48" r="1.15"/>
<circle cx="397.1" cy="745.87" r="1.15"/>
<circle cx="339.78" cy="743.46" r="1.15"/>
<circle cx="331.37" cy="720.18" r="1.15"/>
<circle cx="362.48" cy="754.63" r="1.15"/>
<circle cx="369.44" cy="732.76" r="1.15"/>
<circle cx="289.05" cy="730.72" r="1.15"/>
<circle cx="419.97" cy="754.82" r="1.15"/>
<circle cx="438.95" cy="748.2" r="1.15"/>
<circle cx="403.95" cy="752.86" r="1.15"/>
<circle cx="327.36" cy="747.47" r="1.15"/>
<circle cx="332.79" cy="752.73" r="1.15"/>
<circle cx="285.51" cy="727.79" r="1.15"/>
<circle cx="383.24" cy="755.04" r="1.15"/>
<circle cx="397.15" cy="754.46" r="1.15"/>
<circle cx="344.22" cy="742.64" r="1.15"/>
<circle cx="291.9" cy="719.82" r="1.15"/>
<circle cx="302.84" cy="722.91" r="1.15"/>
<circle cx="424.9" cy="754.37" r="1.15"/>
<circle cx="360.36" cy="725.87" r="1.15"/>
<circle cx="357.08" cy="745.23" r="1.15"/>
<circle cx="401.26" cy="755.4" r="1.15"/>
<circle cx="288.97" cy="744.15" r="1.15"/>
<circle cx="300.52" cy="732.29" r="1.15"/>
<circle cx="286.56" cy="731.01" r="1.15"/>
<circle cx="420.58" cy="755.03" r="1.15"/>
<circle cx="292.22" cy="745.26" r="1.15"/>
<circle cx="418.66" cy="746.53" r="1.15"/>
<circle cx="279.2" cy="676.93" r="1.15"/>
<circle cx="322.13" cy="750.42" r="1.15"/>
<circle cx="364.3" cy="749.01" r="1.15"/>
<circle cx="290.91" cy="744.76" r="1.15"/>
<circle cx="335.28" cy="697.38" r="1.15"/>
<circle cx="318.92" cy="712.82" r="1.15"/>
<circle cx="288.33" cy="714.92" r="1.15"/>
<circle cx="298.58" cy="727.81" r="1.15"/>
<circle cx="339.28" cy="751.7" r="1.15"/>
<circle cx="416.08" cy="751.7" r="1.15"/>
<circle cx="297.28" cy="734.27" r="1.15"/>
<circle cx="306.19" cy="732.76" r="1.15"/>
<circle cx="309.25" cy="742.24" r="1.15"/>
<circle cx="430.5" cy="751.58" r="1.15"/>
<circle cx="365.41" cy="748.63" r="1.15"/>
<circle cx="423.68" cy="740.23" r="1.15"/>
<circle cx="284.8" cy="717.15" r="1.15"/>
<circle cx="306.5" cy="729.49" r="1.15"/>
<circle cx="297.4" cy="746.68" r="1.15"/>
<circle cx="284.41" cy="739.64" r="1.15"/>
<circle cx="276.63" cy="701.51" r="1.15"/>
<circle cx="363.02" cy="754.8" r="1.15"/>
<circle cx="282.85" cy="737.56" r="1.15"/>
<circle cx="322.34" cy="751.81" r="1.15"/>
<circle cx="423.32" cy="748.28" r="1.15"/>
<circle cx="376.27" cy="751.98" r="1.15"/>
<circle cx="278.43" cy="729.88" r="1.15"/>
<circle cx="436.89" cy="753.56" r="1.15"/>
<circle cx="342.71" cy="721.76" r="1.15"/>
<circle cx="400.27" cy="753.74" r="1.15"/>
<circle cx="277.18" cy="726.01" r="1.15"/>
<circle cx="408.77" cy="746.82" r="1.15"/>
<circle cx="402.87" cy="753" r="1.15"/>
<circle cx="408.04" cy="752.57" r="1.15"/>
<circle cx="430.16" cy="703.93" r="1.15"/>
<circle cx="379.2" cy="732.15" r="1.15"/>
<circle cx="336.38" cy="716.45" r="1.15"/>
<circle cx="291.84" cy="728.24" r="1.15"/>
<circle cx="321.54" cy="748.85" r="1.15"/>
<circle cx="393.16" cy="728.33" r="1.15"/>
<circle cx="392.79" cy="697.9" r="1.15"/>
<circle cx="285.82" cy="718.38" r="1.15"/>
<circle cx="288.87" cy="731.88" r="1.15"/>
<circle cx="323.84" cy="747.6" r="1.15"/>
<circle cx="305.37" cy="746.76" r="1.15"/>
<circle cx="319.5" cy="743.56" r="1.15"/>
<circle cx="423.21" cy="726.05" r="1.15"/>
<circle cx="432.9" cy="696.21" r="1.15"/>
<circle cx="359.24" cy="737.34" r="1.15"/>
<circle cx="283.92" cy="704.4" r="1.15"/>
<circle cx="423.79" cy="755.1" r="1.15"/>
<circle cx="433.2" cy="741.67" r="1.15"/>
<circle cx="369.18" cy="723.38" r="1.15"/>
<circle cx="435.9" cy="751.26" r="1.15"/>
<circle cx="358.24" cy="692.38" r="1.15"/>
<circle cx="297.6" cy="747.71" r="1.15"/>
<circle cx="402.27" cy="751.54" r="1.15"/>
<circle cx="372.43" cy="704.06" r="1.15"/>
<circle cx="391.86" cy="711.56" r="1.15"/>
<circle cx="333.22" cy="751.17" r="1.15"/>
<circle cx="343.47" cy="752.2" r="1.15"/>
<circle cx="348.72" cy="686.98" r="1.15"/>
<circle cx="431.13" cy="755.13" r="1.15"/>
<circle cx="278.36" cy="724.5" r="1.15"/>
<circle cx="322.42" cy="720.98" r="1.15"/>
<circle cx="406.87" cy="755.57" r="1.15"/>
<circle cx="374.55" cy="736.68" r="1.15"/>
<circle cx="427.27" cy="751.61" r="1.15"/>
<circle cx="405.8" cy="751.2" r="1.15"/>
<circle cx="403.21" cy="748.84" r="1.15"/>
<circle cx="279.25" cy="687.4" r="1.15"/>
<circle cx="406.28" cy="718.18" r="1.15"/>
<circle cx="350.13" cy="730.01" r="1.15"/>
<circle cx="370.59" cy="740.46" r="1.15"/>
<circle cx="279.85" cy="733.13" r="1.15"/>
<circle cx="390.58" cy="748.85" r="1.15"/>
<circle cx="416.59" cy="697.3" r="1.15"/>
<circle cx="403.26" cy="725.3" r="1.15"/>
<circle cx="286.27" cy="686.29" r="1.15"/>
<circle cx="312.83" cy="751.21" r="1.15"/>
<circle cx="384.94" cy="754.57" r="1.15"/>
<circle cx="288.51" cy="739.1" r="1.15"/>
<circle cx="296.92" cy="745.9" r="1.15"/>
<circle cx="301.71" cy="731.95" r="1.15"/>
<circle cx="367.7" cy="751.79" r="1.15"/>
<circle cx="410.62" cy="732.96" r="1.15"/>
<circle cx="282.5" cy="737.15" r="1.15"/>
<circle cx="359.26" cy="754.36" r="1.15"/>
<circle cx="320.98" cy="716.2" r="1.15"/>
<circle cx="286.8" cy="742.11" r="1.15"/>
<circle cx="435.43" cy="689.68" r="1.15"/>
<circle cx="398.54" cy="751.81" r="1.15"/>
<circle cx="280.17" cy="678.77" r="1.15"/>
<circle cx="275.43" cy="713.39" r="1.15"/>
<circle cx="426.43" cy="722.77" r="1.15"/>
<circle cx="275.47" cy="708.32" r="1.15"/>
<circle cx="295.56" cy="697.61" r="1.15"/>
<circle cx="356.62" cy="727.88" r="1.15"/>
<circle cx="312.11" cy="750.61" r="1.15"/>
<circle cx="293.78" cy="691.62" r="1.15"/>
<circle cx="290.33" cy="744.18" r="1.15"/>
<circle cx="422.55" cy="742.46" r="1.15"/>
<circle cx="425.56" cy="754.7" r="1.15"/>
<circle cx="277.21" cy="715.42" r="1.15"/>
<circle cx="351.26" cy="737.81" r="1.15"/>
<circle cx="394.14" cy="753.8" r="1.15"/>
<circle cx="301.66" cy="737.35" r="1.15"/>
<circle cx="408.25" cy="711.57" r="1.15"/>
<circle cx="277.98" cy="714.52" r="1.15"/>
<circle cx="386.29" cy="737.26" r="1.15"/>
<circle cx="287.82" cy="733.74" r="1.15"/>
<circle cx="423.19" cy="756" r="1.15"/>
<circle cx="413.15" cy="743.11" r="1.15"/>
<circle cx="303.85" cy="747.59" r="1.15"/>
<circle cx="293.56" cy="744.98" r="1.15"/>
<circle cx="308.66" cy="712.39" r="1.15"/>
<circle cx="336.93" cy="743.42" r="1.15"/>
<circle cx="380.43" cy="747.42" r="1.15"/>
<circle cx="387.75" cy="704.34" r="1.15"/>
<circle cx="415.47" cy="753.96" r="1.15"/>
<circle cx="355.75" cy="742.18" r="1.15"/>
<circle cx="396.27" cy="754.9" r="1.15"/>
<circle cx="306.36" cy="697.17" r="1.15"/>
<circle cx="404.47" cy="686.25" r="1.15"/>
<circle cx="427.78" cy="752.14" r="1.15"/>
<circle cx="409.21" cy="754.56" r="1.15"/>
<circle cx="384.58" cy="745.33" r="1.15"/>
<circle cx="283.51" cy="729.63" r="1.15"/>
<circle cx="437.89" cy="754.62" r="1.15"/>
<circle cx="402.08" cy="738.54" r="1.15"/>
<circle cx="286.56" cy="741.96" r="1.15"/>
<circle cx="379.31" cy="743.33" r="1.15"/>
<circle cx="301.84" cy="749.24" r="1.15"/>
<circle cx="275.55" cy="671.55" r="1.15"/>
<circle cx="405.52" cy="755.72" r="1.15"/>
<circle cx="342.75" cy="752" r="1.15"/>
<circle cx="418.09" cy="709.08" r="1.15"/>
<circle cx="277.02" cy="715.39" r="1.15"/>
<circle cx="348.73" cy="743.16" r="1.15"/>
<circle cx="273.68" cy="682.95" r="1.15"/>
<circle cx="369.31" cy="754.5" r="1.15"/>
<circle cx="348.4" cy="738.74" r="1.15"/>
<circle cx="280.72" cy="722.43" r="1.15"/>
<circle cx="299.87" cy="724.48" r="1.15"/>
<circle cx="281.75" cy="736.11" r="1.15"/>
<circle cx="309.83" cy="749.67" r="1.15"/>
<circle cx="373.97" cy="754.72" r="1.15"/>
<circle cx="369.57" cy="754.77" r="1.15"/>
<circle cx="274.98" cy="706.49" r="1.15"/>
<circle cx="345.53" cy="742.93" r="1.15"/>
<circle cx="401.26" cy="752.38" r="1.15"/>
<circle cx="388.13" cy="751.27" r="1.15"/>
<circle cx="418.43" cy="724.86" r="1.15"/>
<circle cx="281.76" cy="737.23" r="1.15"/>
<circle cx="326.7" cy="743.37" r="1.15"/>
<circle cx="438.2" cy="752.93" r="1.15"/>
<circle cx="292.43" cy="742.74" r="1.15"/>
<circle cx="316.26" cy="751.84" r="1.15"/>
<circle cx="284.55" cy="734.01" r="1.15"/>
<circle cx="418.86" cy="737.27" r="1.15"/>
<circle cx="334.91" cy="692.59" r="1.15"/>
<circle cx="417.18" cy="710.28" r="1.15"/>
<circle cx="278.04" cy="718.27" r="1.15"/>
<circle cx="433.87" cy="755.98" r="1.15"/>
<circle cx="369.43" cy="754.26" r="1.15"/>
<circle cx="392.07" cy="710.39" r="1.15"/>
<circle cx="407.91" cy="754.49" r="1.15"/>
<circle cx="281.19" cy="673.83" r="1.15"/>
<circle cx="354.28" cy="752.33" r="1.15"/>
<circle cx="344.71" cy="723.59" r="1.15"/>
<circle cx="295.03" cy="744.88" r="1.15"/>
<circle cx="405.13" cy="710.96" r="1.15"/>
<circle cx="434.45" cy="752.21" r="1.15"/>
<circle cx="413.18" cy="730.66" r="1.15"/>
<circle cx="321.58" cy="750.38" r="1.15"/>
<circle cx="302.73" cy="748.98" r="1.15"/>
<circle cx="277.78" cy="725.88" r="1.15"/>
<circle cx="275.58" cy="650.55" r="1.15"/>
<circle cx="369.2" cy="753.79" r="1.15"/>
<circle cx="394.82" cy="751.55" r="1.15"/>
<circle cx="364.71" cy="747.87" r="1.15"/>
<circle cx="276.33" cy="716.74" r="1.15"/>
<circle cx="409.59" cy="749.45" r="1.15"/>
<circle cx="286.88" cy="687.51" r="1.15"/>
<circle cx="370.79" cy="753.16" r="1.15"/>
<circle cx="335.18" cy="737.9" r="1.15"/>
<circle cx="277.71" cy="671.04" r="1.15"/>
<circle cx="409.18" cy="755.01" r="1.15"/>
<circle cx="285" cy="741.35" r="1.15"/>
<circle cx="291.14" cy="713.19" r="1.15"/>
<circle cx="283.05" cy="733.43" r="1.15"/>
<circle cx="406.4" cy="755.82" r="1.15"/>
<circle cx="329.56" cy="749.87" r="1.15"/>
<circle cx="397.12" cy="729.82" r="1.15"/>
<circle cx="429.69" cy="754.7" r="1.15"/>
<circle cx="333.38" cy="742.63" r="1.15"/>
<circle cx="405.71" cy="754.81" r="1.15"/>
<circle cx="291.75" cy="744.94" r="1.15"/>
<circle cx="275.43" cy="717" r="1.15"/>
<circle cx="317.29" cy="748.01" r="1.15"/>
<circle cx="401.29" cy="692.52" r="1.15"/>
<circle cx="381.21" cy="753.88" r="1.15"/>
<circle cx="342.24" cy="753.31" r="1.15"/>
<circle cx="314.27" cy="729.05" r="1.15"/>
<circle cx="342.64" cy="752.66" r="1.15"/>
<circle cx="376.93" cy="751.54" r="1.15"/>
<circle cx="432.35" cy="751.01" r="1.15"/>
<circle cx="346.2" cy="748.5" r="1.15"/>
<circle cx="277.73" cy="700.3" r="1.15"/>
<circle cx="403.48" cy="749.07" r="1.15"/>
<circle cx="399.44" cy="698.9" r="1.15"/>
<circle cx="348.38" cy="745.08" r="1.15"/>
<circle cx="413.04" cy="750.99" r="1.15"/>
<circle cx="312.88" cy="699.17" r="1.15"/>
<circle cx="299.49" cy="710.25" r="1.15"/>
<circle cx="407.5" cy="695.01" r="1.15"/>
<circle cx="325.81" cy="752.71" r="1.15"/>
<circle cx="282.2" cy="716.66" r="1.15"/>
<circle cx="385.36" cy="722.68" r="1.15"/>
<circle cx="414.3" cy="747.22" r="1.15"/>
<circle cx="390.25" cy="754.55" r="1.15"/>
<circle cx="413.01" cy="731.07" r="1.15"/>
<circle cx="410.26" cy="750.17" r="1.15"/>
<circle cx="348.37" cy="689.23" r="1.15"/>
<circle cx="340.8" cy="740.93" r="1.15"/>
<circle cx="390.67" cy="747.17" r="1.15"/>
<circle cx="409.3" cy="749.44" r="1.15"/>
<circle cx="420.07" cy="721.56" r="1.15"/>
<circle cx="282.97" cy="676.22" r="1.15"/>
<circle cx="429.5" cy="754.1" r="1.15"/>
<circle cx="397.8" cy="739.28" r="1.15"/>
<circle cx="318.23" cy="720.63" r="1.15"/>
<circle cx="398.37" cy="705.96" r="1.15"/>
<circle cx="415.64" cy="752.42" r="1.15"/>
<circle cx="305.13" cy="745.65" r="1.15"/>
<circle cx="282.16" cy="657.35" r="1.15"/>
<circle cx="328.46" cy="752.66" r="1.15"/>
<circle cx="279.41" cy="730.95" r="1.15"/>
<circle cx="435.43" cy="717.32" r="1.15"/>
<circle cx="434.55" cy="750.33" r="1.15"/>
<circle cx="393.95" cy="753.63" r="1.15"/>
<circle cx="293.38" cy="695.49" r="1.15"/>
<circle cx="427.68" cy="748.58" r="1.15"/>
<circle cx="389.84" cy="689.18" r="1.15"/>
<circle cx="417.59" cy="714.73" r="1.15"/>
<circle cx="290.49" cy="743.37" r="1.15"/>
<circle cx="365.29" cy="724.89" r="1.15"/>
<circle cx="429.02" cy="747.49" r="1.15"/>
<circle cx="381.96" cy="737.33" r="1.15"/>
<circle cx="345.77" cy="716.51" r="1.15"/>
<circle cx="274.53" cy="698.12" r="1.15"/>
<circle cx="278.42" cy="680.71" r="1.15"/>
<circle cx="373.4" cy="749.11" r="1.15"/>
<circle cx="320.79" cy="692.16" r="1.15"/>
<circle cx="290.02" cy="703.12" r="1.15"/>
<circle cx="274.47" cy="707.45" r="1.15"/>
<circle cx="308.95" cy="750.2" r="1.15"/>
<circle cx="434.93" cy="704.35" r="1.15"/>
<circle cx="329.67" cy="743.16" r="1.15"/>
<circle cx="318.17" cy="751.64" r="1.15"/>
<circle cx="408.67" cy="747.98" r="1.15"/>
<circle cx="341.96" cy="715.58" r="1.15"/>
<circle cx="374.86" cy="754.91" r="1.15"/>
<circle cx="293.12" cy="691.35" r="1.15"/>
<circle cx="288.6" cy="729.32" r="1.15"/>
<circle cx="352.52" cy="687.63" r="1.15"/>
<circle cx="338.93" cy="749.72" r="1.15"/>
<circle cx="408.26" cy="686.54" r="1.15"/>
<circle cx="403.68" cy="752.06" r="1.15"/>
<circle cx="307.56" cy="750.17" r="1.15"/>
<circle cx="399.19" cy="752.33" r="1.15"/>
<circle cx="282.8" cy="724.14" r="1.15"/>
<circle cx="346.89" cy="688.22" r="1.15"/>
<circle cx="376.47" cy="702.27" r="1.15"/>
<circle cx="313.73" cy="750.77" r="1.15"/>
<circle cx="401.25" cy="753.18" r="1.15"/>
<circle cx="423.71" cy="754.45" r="1.15"/>
<circle cx="288.91" cy="743.8" r="1.15"/>
<circle cx="316.51" cy="718.64" r="1.15"/>
<circle cx="426.56" cy="749.67" r="1.15"/>
<circle cx="405.77" cy="745.8" r="1.15"/>
<circle cx="306.89" cy="693.86" r="1.15"/>
<circle cx="326.54" cy="729.74" r="1.15"/>
<circle cx="316.03" cy="740.98" r="1.15"/>
<circle cx="373.86" cy="714.07" r="1.15"/>
<circle cx="346.47" cy="685.5" r="1.15"/>
<circle cx="434.52" cy="745.56" r="1.15"/>
<circle cx="277.3" cy="726.66" r="1.15"/>
<circle cx="431.79" cy="750.15" r="1.15"/>
<circle cx="372.27" cy="708.38" r="1.15"/>
<circle cx="336.57" cy="736.63" r="1.15"/>
<circle cx="273.59" cy="686.14" r="1.15"/>
<circle cx="289.33" cy="729.15" r="1.15"/>
<circle cx="276.81" cy="718.47" r="1.15"/>
<circle cx="421.84" cy="750.91" r="1.15"/>
<circle cx="394.93" cy="750.99" r="1.15"/>
<circle cx="287.61" cy="743.1" r="1.15"/>
<circle cx="432.57" cy="686.49" r="1.15"/>
<circle cx="316.12" cy="713.16" r="1.15"/>
<circle cx="410.14" cy="754.14" r="1.15"/>
<circle cx="327.23" cy="736.06" r="1.15"/>
<circle cx="306.05" cy="743.63" r="1.15"/>
<circle cx="325.11" cy="728.68" r="1.15"/>
<circle cx="279.72" cy="731.44" r="1.15"/>
<circle cx="367.71" cy="738.09" r="1.15"/>
<circle cx="340.1" cy="704.45" r="1.15"/>
<circle cx="274.27" cy="699.35" r="1.15"/>
<circle cx="285.3" cy="739.82" r="1.15"/>
<circle cx="287.54" cy="707.67" r="1.15"/>
<circle cx="356.12" cy="753.52" r="1.15"/>
<circle cx="438.5" cy="755.35" r="1.15"/>
<circle cx="364.22" cy="752.07" r="1.15"/>
<circle cx="335.34" cy="696.54" r="1.15"/>
<circle cx="282.61" cy="735.77" r="1.15"/>
<circle cx="435.92" cy="752.75" r="1.15"/>
<circle cx="279.53" cy="731.53" r="1.15"/>
<circle cx="394.65" cy="739.14" r="1.15"/>
<circle cx="356.8" cy="754.57" r="1.15"/>
<circle cx="386.01" cy="750.06" r="1.15"/>
<circle cx="420.98" cy="733.82" r="1.15"/>
<circle cx="419.58" cy="709.37" r="1.15"/>
<circle cx="375.6" cy="753.45" r="1.15"/>
<circle cx="347.36" cy="742.5" r="1.15"/>
<circle cx="366.34" cy="747.9" r="1.15"/>
<circle cx="283.53" cy="735.99" r="1.15"/>
<circle cx="368.48" cy="748.12" r="1.15"/>
<circle cx="335.12" cy="737.11" r="1.15"/>
<circle cx="399.88" cy="754.29" r="1.15"/>
<circle cx="345.27" cy="702.85" r="1.15"/>
<circle cx="407.71" cy="740.9" r="1.15"/>
<circle cx="369.56" cy="709.7" r="1.15"/>
<circle cx="341.95" cy="749.75" r="1.15"/>
<circle cx="346.71" cy="752.54" r="1.15"/>
<circle cx="417.19" cy="725.31" r="1.15"/>
<circle cx="435.61" cy="755.73" r="1.15"/>
<circle cx="417.76" cy="750.89" r="1.15"/>
<circle cx="357.03" cy="742.71" r="1.15"/>
<circle cx="280.83" cy="736.23" r="1.15"/>
<circle cx="341.37" cy="740.92" r="1.15"/>
<circle cx="426.07" cy="753.75" r="1.15"/>
<circle cx="297.79" cy="745.33" r="1.15"/>
<circle cx="310.42" cy="749.98" r="1.15"/>
<circle cx="425.04" cy="744.37" r="1.15"/>
<circle cx="411.55" cy="751.96" r="1.15"/>
<circle cx="300.43" cy="745.46" r="1.15"/>
<circle cx="416.2" cy="749.54" r="1.15"/>
<circle cx="278.35" cy="700.13" r="1.15"/>
<circle cx="280.43" cy="726.17" r="1.15"/>
<circle cx="368.29" cy="743.38" r="1.15"/>
<circle cx="347.08" cy="739.69" r="1.15"/>
<circle cx="341.74" cy="742.97" r="1.15"/>
<circle cx="291.59" cy="744.17" r="1.15"/>
<circle cx="340.58" cy="748.91" r="1.15"/>
<circle cx="359.64" cy="728.65" r="1.15"/>
<circle cx="277.58" cy="680.76" r="1.15"/>
<circle cx="361.86" cy="754.51" r="1.15"/>
<circle cx="330.46" cy="751.34" r="1.15"/>
<circle cx="383.05" cy="754.62" r="1.15"/>
<circle cx="383.07" cy="715.55" r="1.15"/>
<circle cx="414.44" cy="737.33" r="1.15"/>
<circle cx="297.32" cy="679.83" r="1.15"/>
<circle cx="416.74" cy="751.29" r="1.15"/>
<circle cx="290.35" cy="721.38" r="1.15"/>
<circle cx="419.18" cy="749.85" r="1.15"/>
<circle cx="279.81" cy="734.3" r="1.15"/>
<circle cx="276.44" cy="722.94" r="1.15"/>
<circle cx="420.3" cy="725.26" r="1.15"/>
<circle cx="428.6" cy="704.82" r="1.15"/>
<circle cx="291.01" cy="732.8" r="1.15"/>
<circle cx="286.72" cy="722.2" r="1.15"/>
<circle cx="291.61" cy="742.06" r="1.15"/>
<circle cx="401.95" cy="730.93" r="1.15"/>
<circle cx="400.04" cy="748.95" r="1.15"/>
<circle cx="290.89" cy="735.97" r="1.15"/>
<circle cx="385.85" cy="749.35" r="1.15"/>
<circle cx="335.36" cy="698.52" r="1.15"/>
<circle cx="356.61" cy="713.85" r="1.15"/>
<circle cx="349.46" cy="753.95" r="1.15"/>
<circle cx="282.45" cy="730.97" r="1.15"/>
<circle cx="376.2" cy="752.18" r="1.15"/>
<circle cx="399.27" cy="753.59" r="1.15"/>
<circle cx="362.97" cy="752.24" r="1.15"/>
<circle cx="283.89" cy="733.31" r="1.15"/>
<circle cx="282.72" cy="738.11" r="1.15"/>
<circle cx="279.67" cy="730.95" r="1.15"/>
<circle cx="323.16" cy="748.76" r="1.15"/>
<circle cx="350.12" cy="754.33" r="1.15"/>
<circle cx="357.2" cy="735.21" r="1.15"/>
<circle cx="318.62" cy="722.36" r="1.15"/>
<circle cx="374.69" cy="743.96" r="1.15"/>
<circle cx="419.52" cy="754.87" r="1.15"/>
<circle cx="294.39" cy="733.58" r="1.15"/>
<circle cx="311.69" cy="747.78" r="1.15"/>
<circle cx="334.61" cy="732.18" r="1.15"/>
<circle cx="309.42" cy="746.05" r="1.15"/>
<circle cx="287.19" cy="740.58" r="1.15"/>
<circle cx="353.42" cy="752.66" r="1.15"/>
<circle cx="348.74" cy="751" r="1.15"/>
<circle cx="387.41" cy="728.15" r="1.15"/>
<circle cx="308.54" cy="749.04" r="1.15"/>
<circle cx="281.79" cy="718.48" r="1.15"/>
<circle cx="354.95" cy="691.81" r="1.15"/>
<circle cx="353.61" cy="753.09" r="1.15"/>
<circle cx="378.58" cy="751.11" r="1.15"/>
<circle cx="279.14" cy="731.7" r="1.15"/>
<circle cx="353.7" cy="753.95" r="1.15"/>
<circle cx="287.53" cy="735.54" r="1.15"/>
<circle cx="419.31" cy="755.95" r="1.15"/>
<circle cx="305.01" cy="715.22" r="1.15"/>
<circle cx="283.09" cy="722.47" r="1.15"/>
<circle cx="423.61" cy="745.27" r="1.15"/>
<circle cx="431.06" cy="751.57" r="1.15"/>
<circle cx="292.39" cy="723.9" r="1.15"/>
<circle cx="289.84" cy="744.08" r="1.15"/>
<circle cx="282.21" cy="731.7" r="1.15"/>
<circle cx="291.68" cy="738.42" r="1.15"/>
<circle cx="401.25" cy="749.05" r="1.15"/>
<circle cx="320.06" cy="684.63" r="1.15"/>
<circle cx="360.86" cy="738.11" r="1.15"/>
<circle cx="430.37" cy="694.5" r="1.15"/>
<circle cx="362.29" cy="753.79" r="1.15"/>
<circle cx="325.31" cy="729.77" r="1.15"/>
<circle cx="331.75" cy="753.25" r="1.15"/>
<circle cx="377.97" cy="751.73" r="1.15"/>
<circle cx="295.53" cy="690.63" r="1.15"/>
<circle cx="320.55" cy="712.16" r="1.15"/>
<circle cx="380.5" cy="698.59" r="1.15"/>
<circle cx="428.8" cy="754.74" r="1.15"/>
<circle cx="429.3" cy="741.61" r="1.15"/>
<circle cx="357.9" cy="735.75" r="1.15"/>
<circle cx="285.2" cy="724.25" r="1.15"/>
<circle cx="311.2" cy="749.26" r="1.15"/>
<circle cx="438.92" cy="735.06" r="1.15"/>
<circle cx="291.9" cy="745.73" r="1.15"/>
<circle cx="282.55" cy="697.46" r="1.15"/>
<circle cx="407.04" cy="752.38" r="1.15"/>
<circle cx="350.5" cy="745.11" r="1.15"/>
<circle cx="274.46" cy="683.08" r="1.15"/>
<circle cx="330.89" cy="752.44" r="1.15"/>
<circle cx="364.74" cy="753.69" r="1.15"/>
<circle cx="380.35" cy="753.07" r="1.15"/>
<circle cx="403.91" cy="750.2" r="1.15"/>
<circle cx="427.65" cy="693.39" r="1.15"/>
<circle cx="348.12" cy="750.51" r="1.15"/>
<circle cx="372.24" cy="715.61" r="1.15"/>
<circle cx="438.26" cy="754.51" r="1.15"/>
<circle cx="434.8" cy="747.47" r="1.15"/>
<circle cx="396.04" cy="754.9" r="1.15"/>
<circle cx="301.21" cy="746.96" r="1.15"/>
<circle cx="327.43" cy="749.61" r="1.15"/>
<circle cx="381.44" cy="753.18" r="1.15"/>
<circle cx="298.72" cy="666.94" r="1.15"/>
<circle cx="290.28" cy="708.63" r="1.15"/>
<circle cx="299.5" cy="733.85" r="1.15"/>
<circle cx="282.42" cy="689.54" r="1.15"/>
<circle cx="278.97" cy="649.66" r="1.15"/>
<circle cx="283.47" cy="670.28" r="1.15"/>
<circle cx="277.64" cy="651.23" r="1.15"/>
<circle cx="278.33" cy="650.59" r="1.15"/>
<circle cx="280.69" cy="642.48" r="1.15"/>
<circle cx="281.08" cy="736.7" r="1.15"/>
<circle cx="300.22" cy="740.69" r="1.15"/>
<circle cx="298.53" cy="693.97" r="1.15"/>
<circle cx="305.31" cy="724.62" r="1.15"/>
<circle cx="303.27" cy="724.48" r="1.15"/>
<circle cx="295.68" cy="671.83" r="1.15"/>
<circle cx="282.57" cy="713.82" r="1.15"/>
<circle cx="278.08" cy="646.35" r="1.15"/>
<circle cx="281.5" cy="667.87" r="1.15"/>
<circle cx="277.64" cy="653.46" r="1.15"/>
<circle cx="283.56" cy="730.3" r="1.15"/>
<circle cx="298.48" cy="708.28" r="1.15"/>
<circle cx="278.85" cy="721.86" r="1.15"/>
<circle cx="297.88" cy="740.29" r="1.15"/>
<circle cx="276.41" cy="700.61" r="1.15"/>
<circle cx="301.75" cy="715.69" r="1.15"/>
<circle cx="274.73" cy="682.56" r="1.15"/>
<circle cx="278.08" cy="627.4" r="1.15"/>
</g>
<g fill="#4DBBD5">
<circle cx="289.96" cy="741.8" r="1.15"/>
<circle cx="385.42" cy="745.53" r="1.15"/>
<circle cx="360.98" cy="752.84" r="1.15"/>
<circle cx="278.99" cy="728.13" r="1.15"/>
<circle cx="361.36" cy="754.25" r="1.15"/>
<circle cx="335.87" cy="742.59" r="1.15"/>
<circle cx="322.47" cy="720.17" r="1.15"/>
<circle cx="344.34" cy="709.59" r="1.15"/>
<circle cx="408.19" cy="752.82" r="1.15"/>
<circle cx="376.86" cy="753.75" r="1.15"/>
<circle cx="382.53" cy="751.27" r="1.15"/>
<circle cx="357.05" cy="751" r="1.15"/>
<circle cx="283.56" cy="733.14" r="1.15"/>
<circle cx="289.12" cy="743.72" r="1.15"/>
<circle cx="366.63" cy="753.54" r="1.15"/>
<circle cx="381.82" cy="749.96" r="1.15"/>
<circle cx="375.87" cy="754.11" r="1.15"/>
<circle cx="289.6" cy="741.79" r="1.15"/>
<circle cx="345.56" cy="749.58" r="1.15"/>
<circle cx="344.19" cy="751.54" r="1.15"/>
<circle cx="400.32" cy="753.11" r="1.15"/>
<circle cx="277.17" cy="725.79" r="1.15"/>
<circle cx="289.28" cy="724.5" r="1.15"/>
<circle cx="381.7" cy="754.84" r="1.15"/>
<circle cx="323.32" cy="700.08" r="1.15"/>
<circle cx="414.42" cy="748.01" r="1.15"/>
<circle cx="355.39" cy="719.45" r="1.15"/>
<circle cx="286.86" cy="739.36" r="1.15"/>
<circle cx="322.78" cy="751.7" r="1.15"/>
<circle cx="329.39" cy="752.81" r="1.15"/>
<circle cx="377.84" cy="752.32" r="1.15"/>
<circle cx="342.91" cy="752.21" r="1.15"/>
<circle cx="276.84" cy="687.26" r="1.15"/>
<circle cx="329.69" cy="751.17" r="1.15"/>
<circle cx="373.86" cy="753.08" r="1.15"/>
<circle cx="378.92" cy="754.1" r="1.15"/>
<circle cx="290.42" cy="744.62" r="1.15"/>
<circle cx="299.11" cy="745.51" r="1.15"/>
<circle cx="437.7" cy="750.06" r="1.15"/>
<circle cx="357.91" cy="750.05" r="1.15"/>
<circle cx="342.48" cy="713.22" r="1.15"/>
<circle cx="330.29" cy="752.8" r="1.15"/>
<circle cx="276.38" cy="719.5" r="1.15"/>
<circle cx="380.85" cy="751.88" r="1.15"/>
<circle cx="437.86" cy="752.32" r="1.15"/>
<circle cx="291.29" cy="743.48" r="1.15"/>
<circle cx="360.06" cy="748.55" r="1.15"/>
<circle cx="438.64" cy="756.13" r="1.15"/>
<circle cx="397.72" cy="687.18" r="1.15"/>
<circle cx="421.55" cy="754.32" r="1.15"/>
<circle cx="318.48" cy="751.93" r="1.15"/>
<circle cx="352.42" cy="748.6" r="1.15"/>
<circle cx="382.22" cy="751.92" r="1.15"/>
<circle cx="289.45" cy="680.95" r="1.15"/>
<circle cx="310.52" cy="750.22" r="1.15"/>
<circle cx="410.48" cy="747.97" r="1.15"/>
<circle cx="277.23" cy="726.51" r="1.15"/>
<circle cx="405.49" cy="747.72" r="1.15"/>
<circle cx="352.54" cy="749.41" r="1.15"/>
<circle cx="429.83" cy="727.95" r="1.15"/>
<circle cx="386.39" cy="750.26" r="1.15"/>
<circle cx="391.47" cy="751.12" r="1.15"/>
<circle cx="313.86" cy="737.01" r="1.15"/>
<circle cx="425.57" cy="753.91" r="1.15"/>
<circle cx="380.29" cy="754.33" r="1.15"/>
<circle cx="299.8" cy="747.12" r="1.15"/>
<circle cx="318.72" cy="731.24" r="1.15"/>
<circle cx="283.6" cy="733.96" r="1.15"/>
<circle cx="423.31" cy="753.79" r="1.15"/>
<circle cx="407.66" cy="751.67" r="1.15"/>
<circle cx="291.3" cy="738.64" r="1.15"/>
<circle cx="291.79" cy="727.52" r="1.15"/>
<circle cx="408.97" cy="754.2" r="1.15"/>
<circle cx="411.06" cy="752.92" r="1.15"/>
<circle cx="316.28" cy="751.85" r="1.15"/>
<circle cx="313.68" cy="739.96" r="1.15"/>
<circle cx="287.46" cy="742.41" r="1.15"/>
<circle cx="430.57" cy="755.42" r="1.15"/>
<circle cx="413.09" cy="727.78" r="1.15"/>
<circle cx="395.87" cy="751.56" r="1.15"/>
<circle cx="413.57" cy="755.43" r="1.15"/>
<circle cx="303.05" cy="726.76" r="1.15"/>
<circle cx="411.09" cy="751.25" r="1.15"/>
<circle cx="398.18" cy="755.28" r="1.15"/>
<circle cx="285.44" cy="720.43" r="1.15"/>
<circle cx="357.05" cy="751.31" r="1.15"/>
<circle cx="275.19" cy="659.17" r="1.15"/>
<circle cx="288.77" cy="742.31" r="1.15"/>
<circle cx="359.75" cy="752.07" r="1.15"/>
<circle cx="287.3" cy="683.81" r="1.15"/>
<circle cx="405.42" cy="755.79" r="1.15"/>
<circle cx="329.14" cy="752.92" r="1.15"/>
<circle cx="426.73" cy="710.22" r="1.15"/>
<circle cx="278.87" cy="731.45" r="1.15"/>
<circle cx="393.77" cy="738.36" r="1.15"/>
<circle cx="389.61" cy="755.34" r="1.15"/>
<circle cx="398.64" cy="751.66" r="1.15"/>
<circle cx="275.64" cy="716.52" r="1.15"/>
<circle cx="420.33" cy="695.96" r="1.15"/>
<circle cx="303.38" cy="744.51" r="1.15"/>
<circle cx="273.61" cy="680.15" r="1.15"/>
<circle cx="380.32" cy="749.83" r="1.15"/>
<circle cx="430.5" cy="740.93" r="1.15"/>
<circle cx="352.25" cy="751.61" r="1.15"/>
<circle cx="359.18" cy="738.24" r="1.15"/>
<circle cx="310.15" cy="740.49" r="1.15"/>
<circle cx="377.88" cy="751.52" r="1.15"/>
<circle cx="300.02" cy="741.51" r="1.15"/>
<circle cx="319.12" cy="748.24" r="1.15"/>
<circle cx="361.76" cy="733.46" r="1.15"/>
<circle cx="345.3" cy="734.75" r="1.15"/>
<circle cx="324.03" cy="752.63" r="1.15"/>
<circle cx="300.52" cy="748.46" r="1.15"/>
<circle cx="286.03" cy="740.37" r="1.15"/>
<circle cx="308.3" cy="746.94" r="1.15"/>
<circle cx="322.51" cy="749.6" r="1.15"/>
<circle cx="282.27" cy="733.73" r="1.15"/>
<circle cx="310.56" cy="741.23" r="1.15"/>
<circle cx="311.49" cy="742.45" r="1.15"/>
<circle cx="329.08" cy="752.11" r="1.15"/>
<circle cx="338.22" cy="713.66" r="1.15"/>
<circle cx="394.71" cy="749.11" r="1.15"/>
<circle cx="355.98" cy="724.69" r="1.15"/>
<circle cx="354.73" cy="750.73" r="1.15"/>
<circle cx="367.86" cy="753.94" r="1.15"/>
<circle cx="337" cy="753.12" r="1.15"/>
<circle cx="284.67" cy="740.68" r="1.15"/>
<circle cx="431.29" cy="749.28" r="1.15"/>
<circle cx="413.16" cy="752.87" r="1.15"/>
<circle cx="301.1" cy="733.78" r="1.15"/>
<circle cx="403.77" cy="753.4" r="1.15"/>
<circle cx="364.27" cy="748.08" r="1.15"/>
<circle cx="378.64" cy="719.19" r="1.15"/>
<circle cx="351.41" cy="721.44" r="1.15"/>
<circle cx="412.2" cy="754.3" r="1.15"/>
<circle cx="399.59" cy="748.52" r="1.15"/>
<circle cx="276.01" cy="712.35" r="1.15"/>
<circle cx="392.11" cy="755.69" r="1.15"/>
<circle cx="434.85" cy="753.89" r="1.15"/>
<circle cx="425.08" cy="732.83" r="1.15"/>
<circle cx="329.92" cy="752.79" r="1.15"/>
<circle cx="353.09" cy="754.47" r="1.15"/>
<circle cx="428.18" cy="753.5" r="1.15"/>
<circle cx="277.64" cy="725.85" r="1.15"/>
<circle cx="351.34" cy="747.04" r="1.15"/>
<circle cx="283.74" cy="675.72" r="1.15"/>
<circle cx="280.65" cy="736.03" r="1.15"/>
<circle cx="332.53" cy="752.24" r="1.15"/>
<circle cx="320.7" cy="726.1" r="1.15"/>
<circle cx="286.24" cy="737.87" r="1.15"/>
<circle cx="328.24" cy="746.77" r="1.15"/>
<circle cx="282.19" cy="738.41" r="1.15"/>
<circle cx="433.07" cy="749.29" r="1.15"/>
<circle cx="390.14" cy="748.79" r="1.15"/>
<circle cx="283.1" cy="737.35" r="1.15"/>
<circle cx="434.96" cy="710.4" r="1.15"/>
<circle cx="394.58" cy="752.45" r="1.15"/>
<circle cx="346.55" cy="745.03" r="1.15"/>
<circle cx="287.16" cy="738.63" r="1.15"/>
<circle cx="281.73" cy="733.37" r="1.15"/>
<circle cx="373.58" cy="742.2" r="1.15"/>
<circle cx="281.24" cy="734.89" r="1.15"/>
<circle cx="294.9" cy="733.21" r="1.15"/>
<circle cx="299.86" cy="748.53" r="1.15"/>
<circle cx="408.32" cy="748.04" r="1.15"/>
<circle cx="285.64" cy="727.65" r="1.15"/>
<circle cx="340.2" cy="748.49" r="1.15"/>
<circle cx="282.41" cy="738.25" r="1.15"/>
<circle cx="275.13" cy="712.92" r="1.15"/>
<circle cx="398.4" cy="754.03" r="1.15"/>
<circle cx="333.83" cy="748.8" r="1.15"/>
<circle cx="282.46" cy="723.16" r="1.15"/>
<circle cx="416.57" cy="753.61" r="1.15"/>
<circle cx="323.6" cy="752.39" r="1.15"/>
<circle cx="294.3" cy="720.64" r="1.15"/>
<circle cx="326.01" cy="752.85" r="1.15"/>
<circle cx="347.14" cy="692.19" r="1.15"/>
<circle cx="411.9" cy="753.95" r="1.15"/>
<circle cx="438.89" cy="755.08" r="1.15"/>
<circle cx="415.44" cy="744.45" r="1.15"/>
<circle cx="298.56" cy="668.1" r="1.15"/>
<circle cx="291.3" cy="658.71" r="1.15"/>
<circle cx="284.3" cy="725.39" r="1.15"/>
<circle cx="301.95" cy="736.07" r="1.15"/>
<circle cx="275.07" cy="615.2" r="1.15"/>
</g>
<text transform="translate(458.18 605.4) scale(1.2 1)" x="0" y="0" font-size="16.6" font-weight="bold" style="fill:#000;stroke:#000;stroke-width:0.45px">g</text>
<line x1="496.2" y1="612.9" x2="496.2" y2="737.1" stroke="#111" stroke-width="1.1"/>
<line x1="496.2" y1="737.1" x2="685" y2="737.1" stroke="#111" stroke-width="1.1"/>
<line x1="492.6" y1="731.7" x2="496.2" y2="731.7" stroke="#111" stroke-width="1"/>
<text x="490.4" y="735.8" font-size="11.9" text-anchor="end">0.0</text>
<line x1="492.6" y1="699.5" x2="496.2" y2="699.5" stroke="#111" stroke-width="1"/>
<text x="490.4" y="703.6" font-size="11.9" text-anchor="end">0.2</text>
<line x1="492.6" y1="667.3" x2="496.2" y2="667.3" stroke="#111" stroke-width="1"/>
<text x="490.4" y="671.4" font-size="11.9" text-anchor="end">0.4</text>
<line x1="492.6" y1="635.1" x2="496.2" y2="635.1" stroke="#111" stroke-width="1"/>
<text x="490.4" y="639.2" font-size="11.9" text-anchor="end">0.6</text>
<rect x="498.8" y="659.73" width="8.1" height="71.97" fill="#E64B35" stroke="#111" stroke-width="1.0"/>
<rect x="506.9" y="642.18" width="8.5" height="89.52" fill="#4DBBD5" stroke="#111" stroke-width="1.0"/>
<path d="M509.15 639.45H513.15M511.15 639.45V644.92M509.15 644.92H513.15" stroke="#111" stroke-width="1" fill="none"/>
<line x1="506.9" y1="737.1" x2="506.9" y2="740.6" stroke="#111" stroke-width="1"/>
<text x="510.9" y="745.8" font-size="11.9" text-anchor="end" transform="rotate(-90 510.9 745.8)">Intronic</text>
<rect x="517.28" y="702.4" width="8.1" height="29.3" fill="#E64B35" stroke="#111" stroke-width="1.0"/>
<rect x="525.38" y="730.73" width="8.5" height="0.97" fill="#4DBBD5" stroke="#111" stroke-width="1.0"/>
<path d="M527.63 730.41H531.63M529.63 730.41V731.06M527.63 731.06H531.63" stroke="#111" stroke-width="1" fill="none"/>
<line x1="525.38" y1="737.1" x2="525.38" y2="740.6" stroke="#111" stroke-width="1"/>
<text x="529.38" y="745.8" font-size="11.9" text-anchor="end" transform="rotate(-90 529.38 745.8)">Missense</text>
<rect x="535.76" y="711.09" width="8.1" height="20.61" fill="#E64B35" stroke="#111" stroke-width="1.0"/>
<rect x="543.86" y="709.48" width="8.5" height="22.22" fill="#4DBBD5" stroke="#111" stroke-width="1.0"/>
<path d="M546.11 707.23H550.11M548.11 707.23V711.74M546.11 711.74H550.11" stroke="#111" stroke-width="1" fill="none"/>
<line x1="543.86" y1="737.1" x2="543.86" y2="740.6" stroke="#111" stroke-width="1"/>
<text x="547.86" y="745.8" font-size="11.9" text-anchor="end" transform="rotate(-90 547.86 745.8)">Upstream</text>
<rect x="554.24" y="718.02" width="8.1" height="13.68" fill="#E64B35" stroke="#111" stroke-width="1.0"/>
<rect x="562.34" y="708.36" width="8.5" height="23.35" fill="#4DBBD5" stroke="#111" stroke-width="1.0"/>
<path d="M564.59 706.26H568.59M566.59 706.26V710.45M564.59 710.45H568.59" stroke="#111" stroke-width="1" fill="none"/>
<line x1="562.34" y1="737.1" x2="562.34" y2="740.6" stroke="#111" stroke-width="1"/>
<text x="566.34" y="745.8" font-size="11.9" text-anchor="end" transform="rotate(-90 566.34 745.8)">Intergenic</text>
<rect x="572.72" y="721.72" width="8.1" height="9.98" fill="#E64B35" stroke="#111" stroke-width="1.0"/>
<rect x="580.82" y="717.85" width="8.5" height="13.85" fill="#4DBBD5" stroke="#111" stroke-width="1.0"/>
<path d="M583.07 716.41H587.07M585.07 716.41V719.3M583.07 719.3H587.07" stroke="#111" stroke-width="1" fill="none"/>
<line x1="580.82" y1="737.1" x2="580.82" y2="740.6" stroke="#111" stroke-width="1"/>
<text x="584.82" y="745.8" font-size="11.9" text-anchor="end" transform="rotate(-90 584.82 745.8)">Downstream</text>
<rect x="591.2" y="727.19" width="8.1" height="4.51" fill="#E64B35" stroke="#111" stroke-width="1.0"/>
<rect x="599.3" y="729.77" width="8.5" height="1.93" fill="#4DBBD5" stroke="#111" stroke-width="1.0"/>
<path d="M601.55 729.29H605.55M603.55 729.29V730.25M601.55 730.25H605.55" stroke="#111" stroke-width="1" fill="none"/>
<line x1="599.3" y1="737.1" x2="599.3" y2="740.6" stroke="#111" stroke-width="1"/>
<text x="603.3" y="745.8" font-size="11.9" text-anchor="end" transform="rotate(-90 603.3 745.8)">3’UTR</text>
<rect x="609.68" y="728.8" width="8.1" height="2.9" fill="#E64B35" stroke="#111" stroke-width="1.0"/>
<rect x="617.78" y="730.25" width="8.5" height="1.45" fill="#4DBBD5" stroke="#111" stroke-width="1.0"/>
<path d="M620.03 729.93H624.03M622.03 729.93V730.57M620.03 730.57H624.03" stroke="#111" stroke-width="1" fill="none"/>
<line x1="617.78" y1="737.1" x2="617.78" y2="740.6" stroke="#111" stroke-width="1"/>
<text x="621.78" y="745.8" font-size="11.9" text-anchor="end" transform="rotate(-90 621.78 745.8)">5’UTR</text>
<rect x="628.16" y="729.12" width="8.1" height="2.58" fill="#E64B35" stroke="#111" stroke-width="1.0"/>
<rect x="636.26" y="730.41" width="8.5" height="1.29" fill="#4DBBD5" stroke="#111" stroke-width="1.0"/>
<path d="M638.51 730.09H642.51M640.51 730.09V730.73M638.51 730.73H642.51" stroke="#111" stroke-width="1" fill="none"/>
<line x1="636.26" y1="737.1" x2="636.26" y2="740.6" stroke="#111" stroke-width="1"/>
<text x="640.26" y="745.8" font-size="11.9" text-anchor="end" transform="rotate(-90 640.26 745.8)">Synonymous</text>
<rect x="646.64" y="730.09" width="8.1" height="1.61" fill="#E64B35" stroke="#111" stroke-width="1.0"/>
<rect x="654.74" y="731.06" width="8.5" height="0.64" fill="#4DBBD5" stroke="#111" stroke-width="1.0"/>
<path d="M656.99 730.73H660.99M658.99 730.73V731.38M656.99 731.38H660.99" stroke="#111" stroke-width="1" fill="none"/>
<line x1="654.74" y1="737.1" x2="654.74" y2="740.6" stroke="#111" stroke-width="1"/>
<text x="658.74" y="745.8" font-size="11.9" text-anchor="end" transform="rotate(-90 658.74 745.8)">Splice region</text>
<rect x="665.12" y="727.03" width="8.1" height="4.67" fill="#E64B35" stroke="#111" stroke-width="1.0"/>
<rect x="673.22" y="725.26" width="8.5" height="6.44" fill="#4DBBD5" stroke="#111" stroke-width="1.0"/>
<path d="M675.47 724.29H679.47M677.47 724.29V726.23M675.47 726.23H679.47" stroke="#111" stroke-width="1" fill="none"/>
<line x1="673.22" y1="737.1" x2="673.22" y2="740.6" stroke="#111" stroke-width="1"/>
<text x="677.22" y="745.8" font-size="11.9" text-anchor="end" transform="rotate(-90 677.22 745.8)">Other</text>
<text x="468.6" y="671.1" font-size="11.9" text-anchor="middle" transform="rotate(-90 468.6 671.1)">Proportion of variants</text>
<rect x="587.2" y="619.9" width="11.4" height="10.5" fill="#E64B35" stroke="#111" stroke-width="1.0"/>
<text x="601.2" y="629.8" font-size="11.9">pQTL data</text>
<rect x="587.2" y="635.5" width="11.4" height="10.6" fill="#4DBBD5" stroke="#111" stroke-width="1.0"/>
<text x="601.2" y="645.4" font-size="11.9">Permuted data</text>
<text transform="rotate(-90 530.2 700.5)" x="530.2" y="700.5" font-size="11.7"><tspan font-size="16" dy="4.6">*</tspan><tspan dy="-4.6"> </tspan><tspan font-style="italic">P</tspan> &lt; 0.0001</text>
<text transform="rotate(-90 600.4 726)" x="600.4" y="726" font-size="11.7"><tspan font-size="16" dy="4.6">*</tspan><tspan dy="-4.6"> </tspan><tspan font-style="italic">P</tspan> = 0.0004</text>
<text transform="rotate(-90 655.8 726.5)" x="655.8" y="726.5" font-size="11.7"><tspan font-size="16" dy="4.6">*</tspan><tspan dy="-4.6"> </tspan><tspan font-style="italic">P</tspan> = 0.0025</text>
</svg>
</body></html>
